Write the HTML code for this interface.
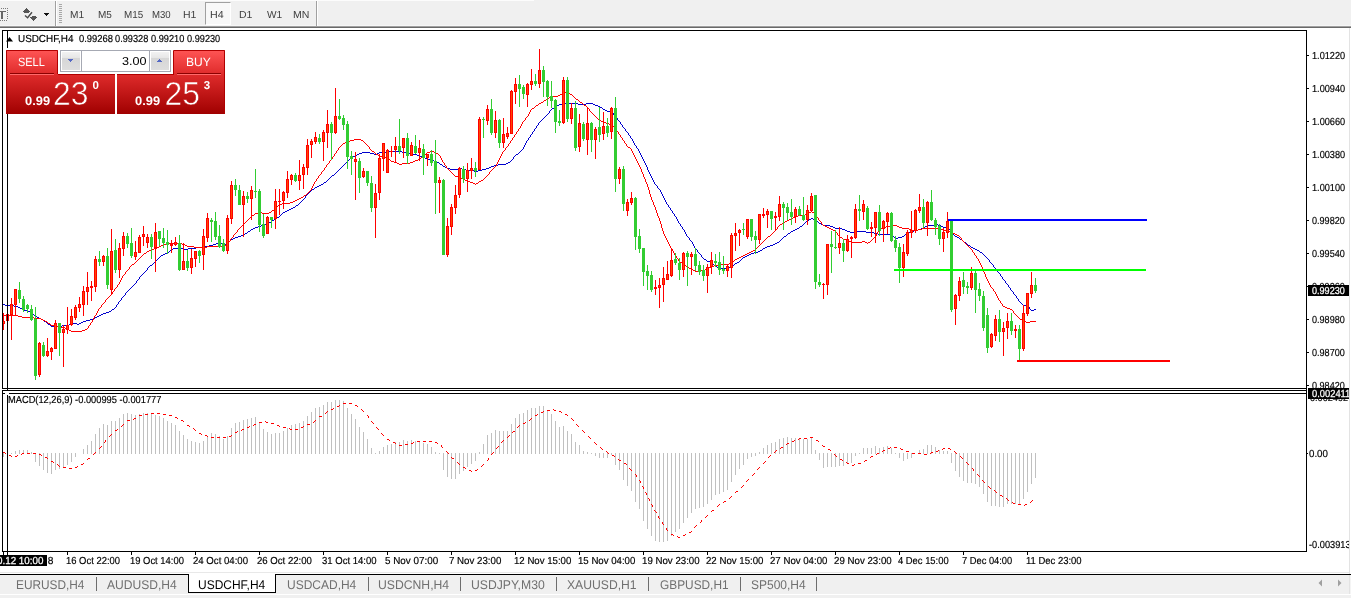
<!DOCTYPE html>
<html lang="en"><head><meta charset="utf-8"><title>USDCHF,H4</title>
<style>
*{box-sizing:border-box;margin:0;padding:0}
html,body{width:1351px;height:598px;overflow:hidden;background:#fff;font-family:"Liberation Sans", sans-serif}
#app{position:relative;width:1351px;height:598px;overflow:hidden;background:#fff}
#app div,#app svg{position:absolute}
.t{line-height:40px;height:40px;white-space:pre;color:#000;text-rendering:geometricPrecision;transform-origin:0 0}
.s{-webkit-text-stroke:0.18px #000}
.w{-webkit-text-stroke:0.25px #fff}
.b{background:#000}
.k{left:1307px;width:2px;height:1px;background:#000}
.dk{top:552px;width:1px;height:3px;background:#000}
.ts{top:577px;width:1px;height:14px;background:#6d6d6d}
.vs{top:1px;width:2px;height:25px;border-left:1px solid #a0a0a0;background:#fff}
#tb{left:0;top:0;width:1351px;height:26px;background:#f0f0f0;border-bottom:1px solid #f6f6f6}
#h4{left:205px;top:2px;width:26px;height:23px;border:1px solid #fff;border-left-color:#a0a0a0;border-top-color:#a0a0a0;background:#f8f8f8}
#tabs{left:0;top:575px;width:1351px;height:23px;background:#f0f0f0;border-bottom:3px solid #f0f0f0}
#atab{left:188px;top:574px;width:88px;height:19px;background:#fff;border:1px solid #000;border-top:none}
</style></head><body>
<div id="app">
<div id="tb"></div>
<div style="left:0;top:0;width:534px;height:1px;background:#fcfcfc"></div>
<div style="left:0;top:26px;width:1351px;height:1px;background:#a0a0a0"></div>
<div style="left:0;top:27px;width:1351px;height:1px;background:#696969"></div>
<div class="vs" style="left:55px"></div><div class="vs" style="left:316px"></div>
<div id="h4"></div>
<svg width="70" height="26" viewBox="0 0 70 26" style="left:0;top:0" shape-rendering="crispEdges">
<path fill="#7a7a7a" d="M1 8h1v1h-1zM3 8h1v1h-1zM5 8h1v1h-1zM7 8h1v1h-1zM7 10h1v1h-1zM7 12h1v1h-1zM7 14h1v1h-1zM7 16h1v1h-1zM7 18h1v1h-1zM0 20h1v1h-1zM2 20h1v1h-1zM4 20h1v1h-1zM6 20h1v1h-1z"/>
<path fill="#666" d="M0 11h6v1h-6zM1 12h2v1h-2zM1 13h2v1h-2zM1 14h2v1h-2zM1 15h2v1h-2zM1 16h2v1h-2zM1 17h2v1h-2zM1 18h2v1h-2z"/>
<path fill="#555" d="M26 8h1v1h-1zM25 9h3v1h-3zM24 10h5v1h-5zM23 11h7v1h-7zM24 12h5v1h-5zM32 16h4v1h-4zM30 17h7v1h-7zM31 18h5v1h-5zM32 19h3v1h-3zM33 20h1v1h-1z"/>
<path fill="#111" d="M44 13h5v1h-5zM45 14h3v1h-3zM46 15h1v1h-1z"/>
<path fill="#a8a8a8" d="M59 4h3v1h-3zM59 6h3v1h-3zM59 8h3v1h-3zM59 10h3v1h-3zM59 12h3v1h-3zM59 14h3v1h-3zM59 16h3v1h-3zM59 18h3v1h-3zM59 20h3v1h-3zM59 22h3v1h-3z"/>
</svg>
<svg width="70" height="26" viewBox="0 0 70 26" style="left:0;top:0">
<path d="M25 15.500L27.600 17.700L32 12.300" fill="none" stroke="#4a4a4a" stroke-width="1.400"/>
</svg>
<!-- chart frame -->
<div class="b" style="left:2px;top:30px;width:1305px;height:1px"></div>
<div class="b" style="left:2px;top:30px;width:1px;height:359px"></div>
<div class="b" style="left:1306px;top:30px;width:1px;height:522px"></div>
<div class="b" style="left:2px;top:388px;width:1305px;height:1px"></div>
<div class="b" style="left:2px;top:390px;width:1305px;height:1px"></div>
<div class="b" style="left:2px;top:390px;width:1px;height:162px"></div>
<div class="b" style="left:2px;top:551px;width:1305px;height:1px"></div>
<div class="k" style="top:55px"></div><div class="k" style="top:88px"></div><div class="k" style="top:121px"></div><div class="k" style="top:154px"></div><div class="k" style="top:187px"></div><div class="k" style="top:220px"></div><div class="k" style="top:253px"></div><div class="k" style="top:286px"></div><div class="k" style="top:319px"></div><div class="k" style="top:352px"></div><div class="k" style="top:385px"></div><div class="k" style="top:453px;width:1px"></div><div class="dk" style="left:3px"></div><div class="dk" style="left:7px"></div><div class="dk" style="left:67px"></div><div class="dk" style="left:131px"></div><div class="dk" style="left:195px"></div><div class="dk" style="left:259px"></div><div class="dk" style="left:323px"></div><div class="dk" style="left:387px"></div><div class="dk" style="left:451px"></div><div class="dk" style="left:515px"></div><div class="dk" style="left:579px"></div><div class="dk" style="left:643px"></div><div class="dk" style="left:707px"></div><div class="dk" style="left:771px"></div><div class="dk" style="left:835px"></div><div class="dk" style="left:899px"></div><div class="dk" style="left:963px"></div><div class="dk" style="left:1027px"></div>
<svg width="1351" height="598" viewBox="0 0 1351 598" style="left:0;top:0" shape-rendering="crispEdges">
<path fill="#0000cd" d="M562 103h16v1h-16zM586 103h7v1h-7zM559 104h3v1h-3zM578 104h8v1h-8zM593 104h2v1h-2zM557 105h2v1h-2zM595 105h3v1h-3zM555 106h2v1h-2zM598 106h2v1h-2zM554 107h1v1h-1zM600 107h2v1h-2zM552 108h2v1h-2zM602 108h1v1h-1zM551 109h1v1h-1zM603 109h2v1h-2zM550 110h1v1h-1zM605 110h2v1h-2zM549 111h1v1h-1zM607 111h5v1h-5zM549 112h1v1h-1zM612 112h1v1h-1zM548 113h1v1h-1zM613 113h1v1h-1zM547 114h1v1h-1zM613 114h1v1h-1zM546 115h1v1h-1zM614 115h1v1h-1zM545 116h1v1h-1zM615 116h1v1h-1zM544 117h1v1h-1zM616 117h1v1h-1zM543 118h1v1h-1zM617 118h1v1h-1zM542 119h1v1h-1zM617 119h1v1h-1zM541 120h1v1h-1zM618 120h1v1h-1zM540 121h1v1h-1zM619 121h1v1h-1zM539 122h1v1h-1zM620 122h1v1h-1zM538 123h1v1h-1zM620 123h1v1h-1zM538 124h1v1h-1zM621 124h1v1h-1zM537 125h1v1h-1zM622 125h1v1h-1zM536 126h1v1h-1zM622 126h1v1h-1zM536 127h1v1h-1zM623 127h1v1h-1zM535 128h1v1h-1zM624 128h1v1h-1zM534 129h1v1h-1zM625 129h1v1h-1zM534 130h1v1h-1zM625 130h1v1h-1zM533 131h1v1h-1zM626 131h1v1h-1zM532 132h1v1h-1zM627 132h1v1h-1zM532 133h1v1h-1zM628 133h1v1h-1zM531 134h1v1h-1zM628 134h1v1h-1zM530 135h1v1h-1zM629 135h1v1h-1zM530 136h1v1h-1zM630 136h1v1h-1zM529 137h1v1h-1zM630 137h1v1h-1zM528 138h1v1h-1zM631 138h1v1h-1zM528 139h1v1h-1zM632 139h1v1h-1zM527 140h1v1h-1zM632 140h1v1h-1zM526 141h1v1h-1zM633 141h1v1h-1zM526 142h1v1h-1zM633 142h1v1h-1zM525 143h1v1h-1zM634 143h1v1h-1zM525 144h1v1h-1zM634 144h1v1h-1zM524 145h1v1h-1zM635 145h1v1h-1zM524 146h1v1h-1zM636 146h1v1h-1zM523 147h1v1h-1zM636 147h1v1h-1zM523 148h1v1h-1zM637 148h1v1h-1zM522 149h1v1h-1zM638 149h1v1h-1zM521 150h1v1h-1zM638 150h1v1h-1zM386 151h16v1h-16zM520 151h1v1h-1zM639 151h1v1h-1zM362 152h8v1h-8zM379 152h7v1h-7zM402 152h4v1h-4zM519 152h1v1h-1zM639 152h1v1h-1zM359 153h3v1h-3zM370 153h4v1h-4zM377 153h2v1h-2zM406 153h4v1h-4zM518 153h1v1h-1zM640 153h1v1h-1zM357 154h2v1h-2zM374 154h3v1h-3zM410 154h7v1h-7zM516 154h2v1h-2zM640 154h1v1h-1zM355 155h2v1h-2zM417 155h2v1h-2zM515 155h1v1h-1zM641 155h1v1h-1zM353 156h2v1h-2zM419 156h3v1h-3zM514 156h1v1h-1zM641 156h1v1h-1zM351 157h2v1h-2zM422 157h3v1h-3zM513 157h1v1h-1zM642 157h1v1h-1zM350 158h1v1h-1zM425 158h2v1h-2zM513 158h1v1h-1zM642 158h1v1h-1zM349 159h1v1h-1zM427 159h3v1h-3zM512 159h1v1h-1zM643 159h1v1h-1zM348 160h1v1h-1zM430 160h4v1h-4zM511 160h1v1h-1zM643 160h1v1h-1zM347 161h1v1h-1zM434 161h3v1h-3zM510 161h1v1h-1zM644 161h1v1h-1zM346 162h1v1h-1zM437 162h2v1h-2zM508 162h2v1h-2zM644 162h1v1h-1zM345 163h1v1h-1zM439 163h1v1h-1zM506 163h2v1h-2zM645 163h1v1h-1zM344 164h1v1h-1zM440 164h2v1h-2zM498 164h8v1h-8zM645 164h1v1h-1zM343 165h1v1h-1zM442 165h1v1h-1zM494 165h4v1h-4zM646 165h1v1h-1zM342 166h1v1h-1zM443 166h2v1h-2zM491 166h3v1h-3zM646 166h1v1h-1zM341 167h1v1h-1zM445 167h2v1h-2zM489 167h2v1h-2zM647 167h1v1h-1zM340 168h1v1h-1zM447 168h3v1h-3zM458 168h4v1h-4zM486 168h3v1h-3zM647 168h1v1h-1zM339 169h1v1h-1zM450 169h8v1h-8zM462 169h4v1h-4zM482 169h4v1h-4zM647 169h1v1h-1zM338 170h1v1h-1zM466 170h8v1h-8zM478 170h4v1h-4zM648 170h1v1h-1zM337 171h1v1h-1zM474 171h4v1h-4zM648 171h1v1h-1zM336 172h1v1h-1zM649 172h1v1h-1zM335 173h1v1h-1zM649 173h1v1h-1zM334 174h1v1h-1zM650 174h1v1h-1zM332 175h2v1h-2zM650 175h1v1h-1zM331 176h1v1h-1zM651 176h1v1h-1zM330 177h1v1h-1zM651 177h1v1h-1zM329 178h1v1h-1zM652 178h1v1h-1zM328 179h1v1h-1zM652 179h1v1h-1zM327 180h1v1h-1zM653 180h1v1h-1zM326 181h1v1h-1zM653 181h1v1h-1zM324 182h2v1h-2zM654 182h1v1h-1zM323 183h1v1h-1zM654 183h1v1h-1zM321 184h2v1h-2zM655 184h1v1h-1zM319 185h2v1h-2zM656 185h1v1h-1zM317 186h2v1h-2zM657 186h1v1h-1zM315 187h2v1h-2zM657 187h1v1h-1zM314 188h1v1h-1zM658 188h1v1h-1zM312 189h2v1h-2zM659 189h1v1h-1zM311 190h1v1h-1zM660 190h1v1h-1zM310 191h1v1h-1zM660 191h1v1h-1zM309 192h1v1h-1zM661 192h1v1h-1zM308 193h1v1h-1zM661 193h1v1h-1zM307 194h1v1h-1zM662 194h1v1h-1zM306 195h1v1h-1zM662 195h1v1h-1zM305 196h1v1h-1zM663 196h1v1h-1zM305 197h1v1h-1zM663 197h1v1h-1zM304 198h1v1h-1zM664 198h1v1h-1zM303 199h1v1h-1zM664 199h1v1h-1zM302 200h1v1h-1zM665 200h1v1h-1zM301 201h1v1h-1zM665 201h1v1h-1zM300 202h1v1h-1zM666 202h1v1h-1zM299 203h1v1h-1zM666 203h1v1h-1zM298 204h1v1h-1zM667 204h1v1h-1zM296 205h2v1h-2zM668 205h1v1h-1zM295 206h1v1h-1zM668 206h1v1h-1zM293 207h2v1h-2zM669 207h1v1h-1zM291 208h2v1h-2zM670 208h1v1h-1zM289 209h2v1h-2zM670 209h1v1h-1zM287 210h2v1h-2zM671 210h1v1h-1zM285 211h2v1h-2zM672 211h1v1h-1zM283 212h2v1h-2zM672 212h1v1h-1zM282 213h1v1h-1zM673 213h1v1h-1zM281 214h1v1h-1zM674 214h1v1h-1zM280 215h1v1h-1zM674 215h1v1h-1zM279 216h1v1h-1zM675 216h1v1h-1zM277 217h2v1h-2zM676 217h1v1h-1zM275 218h2v1h-2zM676 218h1v1h-1zM811 218h2v1h-2zM274 219h1v1h-1zM677 219h1v1h-1zM809 219h2v1h-2zM813 219h2v1h-2zM272 220h2v1h-2zM677 220h1v1h-1zM807 220h2v1h-2zM815 220h1v1h-1zM271 221h1v1h-1zM678 221h1v1h-1zM806 221h1v1h-1zM816 221h2v1h-2zM269 222h2v1h-2zM678 222h1v1h-1zM805 222h1v1h-1zM818 222h1v1h-1zM266 223h3v1h-3zM679 223h1v1h-1zM804 223h1v1h-1zM819 223h2v1h-2zM263 224h3v1h-3zM680 224h1v1h-1zM803 224h1v1h-1zM821 224h2v1h-2zM934 224h4v1h-4zM261 225h2v1h-2zM680 225h1v1h-1zM802 225h1v1h-1zM823 225h7v1h-7zM927 225h7v1h-7zM938 225h3v1h-3zM258 226h3v1h-3zM681 226h1v1h-1zM800 226h2v1h-2zM830 226h3v1h-3zM925 226h2v1h-2zM941 226h2v1h-2zM255 227h3v1h-3zM682 227h1v1h-1zM799 227h1v1h-1zM833 227h2v1h-2zM923 227h2v1h-2zM943 227h5v1h-5zM253 228h2v1h-2zM682 228h1v1h-1zM797 228h2v1h-2zM835 228h7v1h-7zM921 228h2v1h-2zM948 228h1v1h-1zM251 229h2v1h-2zM683 229h1v1h-1zM795 229h2v1h-2zM842 229h3v1h-3zM918 229h3v1h-3zM949 229h1v1h-1zM250 230h1v1h-1zM684 230h1v1h-1zM793 230h2v1h-2zM845 230h2v1h-2zM914 230h4v1h-4zM950 230h1v1h-1zM248 231h2v1h-2zM684 231h1v1h-1zM791 231h2v1h-2zM847 231h3v1h-3zM854 231h12v1h-12zM910 231h4v1h-4zM951 231h1v1h-1zM247 232h1v1h-1zM685 232h1v1h-1zM790 232h1v1h-1zM850 232h4v1h-4zM866 232h8v1h-8zM907 232h3v1h-3zM952 232h1v1h-1zM245 233h2v1h-2zM685 233h1v1h-1zM788 233h2v1h-2zM874 233h4v1h-4zM906 233h1v1h-1zM953 233h1v1h-1zM243 234h2v1h-2zM686 234h1v1h-1zM787 234h1v1h-1zM878 234h14v1h-14zM905 234h1v1h-1zM953 234h1v1h-1zM241 235h2v1h-2zM686 235h1v1h-1zM786 235h1v1h-1zM892 235h1v1h-1zM904 235h1v1h-1zM954 235h1v1h-1zM238 236h3v1h-3zM687 236h1v1h-1zM784 236h2v1h-2zM893 236h1v1h-1zM902 236h2v1h-2zM955 236h2v1h-2zM235 237h3v1h-3zM688 237h1v1h-1zM783 237h1v1h-1zM894 237h1v1h-1zM898 237h4v1h-4zM957 237h2v1h-2zM233 238h2v1h-2zM689 238h1v1h-1zM782 238h1v1h-1zM895 238h3v1h-3zM959 238h1v1h-1zM231 239h2v1h-2zM689 239h1v1h-1zM781 239h1v1h-1zM960 239h2v1h-2zM230 240h1v1h-1zM690 240h1v1h-1zM780 240h1v1h-1zM962 240h1v1h-1zM229 241h1v1h-1zM691 241h1v1h-1zM779 241h1v1h-1zM963 241h1v1h-1zM218 242h3v1h-3zM228 242h1v1h-1zM692 242h1v1h-1zM777 242h2v1h-2zM964 242h2v1h-2zM216 243h2v1h-2zM221 243h2v1h-2zM226 243h2v1h-2zM692 243h1v1h-1zM775 243h2v1h-2zM966 243h1v1h-1zM213 244h3v1h-3zM223 244h3v1h-3zM693 244h1v1h-1zM773 244h2v1h-2zM967 244h1v1h-1zM209 245h4v1h-4zM693 245h1v1h-1zM770 245h3v1h-3zM968 245h2v1h-2zM205 246h4v1h-4zM694 246h1v1h-1zM767 246h3v1h-3zM970 246h1v1h-1zM196 247h9v1h-9zM694 247h1v1h-1zM765 247h2v1h-2zM971 247h2v1h-2zM173 248h11v1h-11zM188 248h8v1h-8zM695 248h1v1h-1zM763 248h2v1h-2zM973 248h2v1h-2zM172 249h1v1h-1zM184 249h4v1h-4zM696 249h1v1h-1zM762 249h1v1h-1zM975 249h2v1h-2zM170 250h2v1h-2zM697 250h1v1h-1zM760 250h2v1h-2zM977 250h2v1h-2zM169 251h1v1h-1zM697 251h1v1h-1zM758 251h2v1h-2zM979 251h1v1h-1zM167 252h2v1h-2zM698 252h1v1h-1zM754 252h4v1h-4zM980 252h2v1h-2zM165 253h2v1h-2zM699 253h1v1h-1zM751 253h3v1h-3zM982 253h1v1h-1zM163 254h2v1h-2zM700 254h1v1h-1zM749 254h2v1h-2zM983 254h1v1h-1zM161 255h2v1h-2zM701 255h1v1h-1zM747 255h2v1h-2zM984 255h1v1h-1zM160 256h1v1h-1zM701 256h1v1h-1zM745 256h2v1h-2zM985 256h1v1h-1zM159 257h1v1h-1zM702 257h1v1h-1zM743 257h2v1h-2zM986 257h1v1h-1zM158 258h1v1h-1zM703 258h1v1h-1zM742 258h1v1h-1zM987 258h1v1h-1zM157 259h1v1h-1zM704 259h2v1h-2zM741 259h1v1h-1zM988 259h1v1h-1zM156 260h1v1h-1zM706 260h1v1h-1zM740 260h1v1h-1zM989 260h1v1h-1zM155 261h1v1h-1zM707 261h3v1h-3zM739 261h1v1h-1zM989 261h1v1h-1zM154 262h1v1h-1zM710 262h2v1h-2zM737 262h2v1h-2zM990 262h1v1h-1zM153 263h1v1h-1zM712 263h1v1h-1zM735 263h2v1h-2zM991 263h1v1h-1zM152 264h1v1h-1zM713 264h1v1h-1zM734 264h1v1h-1zM992 264h1v1h-1zM150 265h2v1h-2zM714 265h1v1h-1zM732 265h2v1h-2zM993 265h1v1h-1zM149 266h1v1h-1zM715 266h2v1h-2zM731 266h1v1h-1zM993 266h1v1h-1zM148 267h1v1h-1zM717 267h2v1h-2zM729 267h2v1h-2zM994 267h1v1h-1zM147 268h1v1h-1zM719 268h10v1h-10zM995 268h1v1h-1zM147 269h1v1h-1zM996 269h1v1h-1zM146 270h1v1h-1zM997 270h1v1h-1zM145 271h1v1h-1zM997 271h1v1h-1zM144 272h1v1h-1zM998 272h1v1h-1zM143 273h1v1h-1zM999 273h1v1h-1zM142 274h1v1h-1zM1000 274h1v1h-1zM141 275h1v1h-1zM1000 275h1v1h-1zM140 276h1v1h-1zM1001 276h1v1h-1zM139 277h1v1h-1zM1002 277h1v1h-1zM139 278h1v1h-1zM1002 278h1v1h-1zM138 279h1v1h-1zM1003 279h1v1h-1zM137 280h1v1h-1zM1004 280h1v1h-1zM136 281h1v1h-1zM1005 281h1v1h-1zM136 282h1v1h-1zM1005 282h1v1h-1zM135 283h1v1h-1zM1006 283h1v1h-1zM134 284h1v1h-1zM1007 284h1v1h-1zM133 285h1v1h-1zM1008 285h1v1h-1zM132 286h1v1h-1zM1008 286h1v1h-1zM131 287h1v1h-1zM1009 287h1v1h-1zM130 288h1v1h-1zM1010 288h1v1h-1zM129 289h1v1h-1zM1010 289h1v1h-1zM128 290h1v1h-1zM1011 290h1v1h-1zM127 291h1v1h-1zM1012 291h1v1h-1zM126 292h1v1h-1zM1013 292h1v1h-1zM125 293h1v1h-1zM1013 293h1v1h-1zM125 294h1v1h-1zM1014 294h1v1h-1zM124 295h1v1h-1zM1015 295h1v1h-1zM123 296h1v1h-1zM1016 296h1v1h-1zM122 297h1v1h-1zM1016 297h1v1h-1zM121 298h1v1h-1zM1017 298h1v1h-1zM121 299h1v1h-1zM1018 299h1v1h-1zM120 300h1v1h-1zM1018 300h1v1h-1zM119 301h1v1h-1zM1019 301h1v1h-1zM118 302h1v1h-1zM1020 302h1v1h-1zM118 303h1v1h-1zM1021 303h1v1h-1zM2 304h3v1h-3zM117 304h1v1h-1zM1022 304h1v1h-1zM5 305h9v1h-9zM116 305h1v1h-1zM1023 305h5v1h-5zM14 306h4v1h-4zM116 306h1v1h-1zM1028 306h1v1h-1zM18 307h2v1h-2zM115 307h1v1h-1zM1029 307h1v1h-1zM20 308h2v1h-2zM114 308h1v1h-1zM1029 308h1v1h-1zM22 309h1v1h-1zM112 309h2v1h-2zM1030 309h1v1h-1zM1034 309h2v1h-2zM23 310h5v1h-5zM111 310h1v1h-1zM1031 310h3v1h-3zM28 311h2v1h-2zM109 311h2v1h-2zM30 312h1v1h-1zM106 312h3v1h-3zM31 313h1v1h-1zM103 313h3v1h-3zM32 314h2v1h-2zM101 314h2v1h-2zM34 315h1v1h-1zM99 315h2v1h-2zM35 316h2v1h-2zM97 316h2v1h-2zM37 317h2v1h-2zM95 317h2v1h-2zM39 318h2v1h-2zM93 318h2v1h-2zM41 319h2v1h-2zM90 319h3v1h-3zM43 320h1v1h-1zM86 320h4v1h-4zM44 321h2v1h-2zM83 321h3v1h-3zM46 322h1v1h-1zM81 322h2v1h-2zM47 323h1v1h-1zM71 323h6v1h-6zM79 323h2v1h-2zM48 324h2v1h-2zM69 324h2v1h-2zM77 324h2v1h-2zM50 325h1v1h-1zM62 325h7v1h-7zM51 326h11v1h-11z"/><path fill="#ff0000" d="M563 92h3v1h-3zM562 93h1v1h-1zM566 93h4v1h-4zM560 94h2v1h-2zM570 94h2v1h-2zM558 95h2v1h-2zM572 95h1v1h-1zM551 96h7v1h-7zM573 96h1v1h-1zM549 97h2v1h-2zM574 97h1v1h-1zM547 98h2v1h-2zM575 98h1v1h-1zM546 99h1v1h-1zM576 99h2v1h-2zM544 100h2v1h-2zM578 100h1v1h-1zM543 101h1v1h-1zM579 101h1v1h-1zM541 102h2v1h-2zM580 102h2v1h-2zM539 103h2v1h-2zM582 103h1v1h-1zM538 104h1v1h-1zM583 104h1v1h-1zM536 105h2v1h-2zM584 105h2v1h-2zM535 106h1v1h-1zM586 106h1v1h-1zM534 107h1v1h-1zM587 107h1v1h-1zM532 108h2v1h-2zM588 108h1v1h-1zM531 109h1v1h-1zM589 109h1v1h-1zM530 110h1v1h-1zM589 110h1v1h-1zM530 111h1v1h-1zM590 111h1v1h-1zM529 112h1v1h-1zM591 112h1v1h-1zM529 113h1v1h-1zM592 113h1v1h-1zM528 114h1v1h-1zM593 114h1v1h-1zM528 115h1v1h-1zM594 115h1v1h-1zM527 116h1v1h-1zM595 116h1v1h-1zM526 117h1v1h-1zM596 117h1v1h-1zM525 118h1v1h-1zM597 118h1v1h-1zM525 119h1v1h-1zM598 119h1v1h-1zM524 120h1v1h-1zM599 120h2v1h-2zM523 121h1v1h-1zM601 121h2v1h-2zM522 122h1v1h-1zM603 122h3v1h-3zM522 123h1v1h-1zM606 123h3v1h-3zM521 124h1v1h-1zM609 124h2v1h-2zM521 125h1v1h-1zM611 125h1v1h-1zM520 126h1v1h-1zM612 126h2v1h-2zM520 127h1v1h-1zM614 127h1v1h-1zM519 128h1v1h-1zM615 128h1v1h-1zM518 129h1v1h-1zM616 129h1v1h-1zM518 130h1v1h-1zM616 130h1v1h-1zM517 131h1v1h-1zM617 131h1v1h-1zM516 132h1v1h-1zM618 132h1v1h-1zM516 133h1v1h-1zM618 133h1v1h-1zM515 134h1v1h-1zM619 134h1v1h-1zM514 135h1v1h-1zM620 135h1v1h-1zM514 136h1v1h-1zM620 136h1v1h-1zM513 137h1v1h-1zM621 137h1v1h-1zM512 138h1v1h-1zM622 138h1v1h-1zM354 139h7v1h-7zM512 139h1v1h-1zM622 139h1v1h-1zM350 140h4v1h-4zM361 140h2v1h-2zM511 140h1v1h-1zM623 140h1v1h-1zM347 141h3v1h-3zM363 141h1v1h-1zM510 141h1v1h-1zM624 141h1v1h-1zM345 142h2v1h-2zM364 142h1v1h-1zM510 142h1v1h-1zM624 142h1v1h-1zM343 143h2v1h-2zM365 143h1v1h-1zM509 143h1v1h-1zM625 143h1v1h-1zM342 144h1v1h-1zM366 144h1v1h-1zM508 144h1v1h-1zM626 144h1v1h-1zM341 145h1v1h-1zM367 145h1v1h-1zM508 145h1v1h-1zM626 145h1v1h-1zM340 146h1v1h-1zM368 146h1v1h-1zM507 146h1v1h-1zM627 146h1v1h-1zM339 147h1v1h-1zM369 147h1v1h-1zM506 147h1v1h-1zM628 147h2v1h-2zM338 148h1v1h-1zM369 148h1v1h-1zM505 148h1v1h-1zM630 148h1v1h-1zM338 149h1v1h-1zM370 149h1v1h-1zM505 149h1v1h-1zM631 149h1v1h-1zM337 150h1v1h-1zM371 150h1v1h-1zM504 150h1v1h-1zM631 150h1v1h-1zM336 151h1v1h-1zM372 151h2v1h-2zM430 151h4v1h-4zM503 151h1v1h-1zM632 151h1v1h-1zM336 152h1v1h-1zM374 152h1v1h-1zM427 152h3v1h-3zM434 152h2v1h-2zM502 152h1v1h-1zM632 152h1v1h-1zM335 153h1v1h-1zM375 153h1v1h-1zM426 153h1v1h-1zM436 153h2v1h-2zM502 153h1v1h-1zM633 153h1v1h-1zM334 154h1v1h-1zM376 154h2v1h-2zM424 154h2v1h-2zM438 154h1v1h-1zM501 154h1v1h-1zM633 154h1v1h-1zM334 155h1v1h-1zM378 155h1v1h-1zM423 155h1v1h-1zM439 155h1v1h-1zM501 155h1v1h-1zM634 155h1v1h-1zM333 156h1v1h-1zM379 156h6v1h-6zM422 156h1v1h-1zM440 156h1v1h-1zM500 156h1v1h-1zM634 156h1v1h-1zM332 157h1v1h-1zM385 157h2v1h-2zM421 157h1v1h-1zM440 157h1v1h-1zM500 157h1v1h-1zM635 157h1v1h-1zM332 158h1v1h-1zM387 158h1v1h-1zM420 158h1v1h-1zM441 158h1v1h-1zM499 158h1v1h-1zM635 158h1v1h-1zM331 159h1v1h-1zM388 159h2v1h-2zM418 159h2v1h-2zM441 159h1v1h-1zM499 159h1v1h-1zM636 159h1v1h-1zM330 160h1v1h-1zM390 160h1v1h-1zM415 160h3v1h-3zM442 160h1v1h-1zM498 160h1v1h-1zM636 160h1v1h-1zM329 161h1v1h-1zM391 161h3v1h-3zM413 161h2v1h-2zM442 161h1v1h-1zM498 161h1v1h-1zM637 161h1v1h-1zM329 162h1v1h-1zM394 162h3v1h-3zM410 162h3v1h-3zM443 162h1v1h-1zM497 162h1v1h-1zM637 162h1v1h-1zM328 163h1v1h-1zM397 163h2v1h-2zM402 163h8v1h-8zM444 163h1v1h-1zM497 163h1v1h-1zM638 163h1v1h-1zM327 164h1v1h-1zM399 164h3v1h-3zM444 164h1v1h-1zM496 164h1v1h-1zM638 164h1v1h-1zM326 165h1v1h-1zM445 165h1v1h-1zM496 165h1v1h-1zM639 165h1v1h-1zM326 166h1v1h-1zM446 166h1v1h-1zM495 166h1v1h-1zM639 166h1v1h-1zM325 167h1v1h-1zM446 167h1v1h-1zM494 167h1v1h-1zM640 167h1v1h-1zM324 168h1v1h-1zM447 168h1v1h-1zM493 168h1v1h-1zM640 168h1v1h-1zM324 169h1v1h-1zM448 169h1v1h-1zM492 169h1v1h-1zM641 169h1v1h-1zM323 170h1v1h-1zM449 170h1v1h-1zM491 170h1v1h-1zM641 170h1v1h-1zM322 171h1v1h-1zM450 171h1v1h-1zM490 171h1v1h-1zM641 171h1v1h-1zM321 172h1v1h-1zM451 172h1v1h-1zM489 172h1v1h-1zM642 172h1v1h-1zM321 173h1v1h-1zM452 173h1v1h-1zM489 173h1v1h-1zM642 173h1v1h-1zM320 174h1v1h-1zM453 174h1v1h-1zM488 174h1v1h-1zM643 174h1v1h-1zM319 175h1v1h-1zM454 175h1v1h-1zM487 175h1v1h-1zM643 175h1v1h-1zM318 176h1v1h-1zM455 176h3v1h-3zM486 176h1v1h-1zM643 176h1v1h-1zM318 177h1v1h-1zM458 177h3v1h-3zM485 177h1v1h-1zM644 177h1v1h-1zM317 178h1v1h-1zM461 178h2v1h-2zM484 178h1v1h-1zM644 178h1v1h-1zM316 179h1v1h-1zM463 179h2v1h-2zM483 179h1v1h-1zM645 179h1v1h-1zM316 180h1v1h-1zM465 180h2v1h-2zM481 180h2v1h-2zM645 180h1v1h-1zM315 181h1v1h-1zM467 181h3v1h-3zM479 181h2v1h-2zM645 181h1v1h-1zM314 182h1v1h-1zM470 182h3v1h-3zM478 182h1v1h-1zM646 182h1v1h-1zM314 183h1v1h-1zM473 183h2v1h-2zM476 183h2v1h-2zM646 183h1v1h-1zM313 184h1v1h-1zM475 184h1v1h-1zM647 184h1v1h-1zM313 185h1v1h-1zM647 185h1v1h-1zM312 186h1v1h-1zM647 186h1v1h-1zM312 187h1v1h-1zM648 187h1v1h-1zM311 188h1v1h-1zM648 188h1v1h-1zM311 189h1v1h-1zM648 189h1v1h-1zM310 190h1v1h-1zM649 190h1v1h-1zM309 191h1v1h-1zM649 191h1v1h-1zM308 192h1v1h-1zM649 192h1v1h-1zM307 193h1v1h-1zM649 193h1v1h-1zM306 194h1v1h-1zM650 194h1v1h-1zM304 195h2v1h-2zM650 195h1v1h-1zM303 196h1v1h-1zM650 196h1v1h-1zM301 197h2v1h-2zM651 197h1v1h-1zM299 198h2v1h-2zM651 198h1v1h-1zM297 199h2v1h-2zM651 199h1v1h-1zM295 200h2v1h-2zM652 200h1v1h-1zM293 201h2v1h-2zM652 201h1v1h-1zM290 202h3v1h-3zM653 202h1v1h-1zM282 203h8v1h-8zM653 203h1v1h-1zM279 204h3v1h-3zM653 204h1v1h-1zM278 205h1v1h-1zM654 205h1v1h-1zM277 206h1v1h-1zM654 206h1v1h-1zM276 207h1v1h-1zM655 207h1v1h-1zM275 208h1v1h-1zM655 208h1v1h-1zM274 209h1v1h-1zM655 209h1v1h-1zM272 210h2v1h-2zM656 210h1v1h-1zM271 211h1v1h-1zM656 211h1v1h-1zM811 211h1v1h-1zM258 212h4v1h-4zM269 212h2v1h-2zM656 212h1v1h-1zM809 212h2v1h-2zM812 212h2v1h-2zM255 213h3v1h-3zM262 213h7v1h-7zM657 213h1v1h-1zM807 213h2v1h-2zM814 213h1v1h-1zM254 214h1v1h-1zM657 214h1v1h-1zM805 214h2v1h-2zM815 214h1v1h-1zM252 215h2v1h-2zM657 215h1v1h-1zM798 215h7v1h-7zM816 215h1v1h-1zM251 216h1v1h-1zM658 216h1v1h-1zM795 216h3v1h-3zM816 216h1v1h-1zM250 217h1v1h-1zM658 217h1v1h-1zM793 217h2v1h-2zM817 217h1v1h-1zM249 218h1v1h-1zM659 218h1v1h-1zM791 218h2v1h-2zM818 218h1v1h-1zM248 219h1v1h-1zM659 219h1v1h-1zM789 219h2v1h-2zM818 219h1v1h-1zM247 220h1v1h-1zM659 220h1v1h-1zM787 220h2v1h-2zM819 220h1v1h-1zM246 221h1v1h-1zM660 221h1v1h-1zM785 221h2v1h-2zM820 221h1v1h-1zM245 222h1v1h-1zM660 222h1v1h-1zM783 222h2v1h-2zM821 222h1v1h-1zM244 223h1v1h-1zM660 223h1v1h-1zM782 223h1v1h-1zM821 223h1v1h-1zM243 224h1v1h-1zM661 224h1v1h-1zM780 224h2v1h-2zM822 224h1v1h-1zM242 225h1v1h-1zM661 225h1v1h-1zM779 225h1v1h-1zM823 225h2v1h-2zM890 225h7v1h-7zM241 226h1v1h-1zM661 226h1v1h-1zM778 226h1v1h-1zM825 226h2v1h-2zM886 226h4v1h-4zM897 226h2v1h-2zM240 227h1v1h-1zM661 227h1v1h-1zM777 227h1v1h-1zM827 227h2v1h-2zM883 227h3v1h-3zM899 227h3v1h-3zM239 228h1v1h-1zM662 228h1v1h-1zM777 228h1v1h-1zM829 228h2v1h-2zM881 228h2v1h-2zM902 228h7v1h-7zM922 228h19v1h-19zM238 229h1v1h-1zM662 229h1v1h-1zM776 229h1v1h-1zM831 229h2v1h-2zM879 229h2v1h-2zM909 229h2v1h-2zM918 229h4v1h-4zM941 229h2v1h-2zM237 230h1v1h-1zM662 230h1v1h-1zM775 230h1v1h-1zM833 230h2v1h-2zM878 230h1v1h-1zM911 230h7v1h-7zM943 230h3v1h-3zM237 231h1v1h-1zM663 231h1v1h-1zM774 231h1v1h-1zM835 231h1v1h-1zM878 231h1v1h-1zM946 231h4v1h-4zM236 232h1v1h-1zM663 232h1v1h-1zM773 232h1v1h-1zM836 232h1v1h-1zM877 232h1v1h-1zM950 232h3v1h-3zM235 233h1v1h-1zM663 233h1v1h-1zM772 233h1v1h-1zM837 233h1v1h-1zM877 233h1v1h-1zM953 233h2v1h-2zM234 234h1v1h-1zM664 234h1v1h-1zM771 234h1v1h-1zM837 234h1v1h-1zM876 234h1v1h-1zM955 234h2v1h-2zM233 235h1v1h-1zM664 235h1v1h-1zM770 235h1v1h-1zM838 235h1v1h-1zM876 235h1v1h-1zM957 235h2v1h-2zM233 236h1v1h-1zM665 236h1v1h-1zM768 236h2v1h-2zM839 236h1v1h-1zM875 236h1v1h-1zM959 236h1v1h-1zM232 237h1v1h-1zM665 237h1v1h-1zM767 237h1v1h-1zM840 237h2v1h-2zM874 237h1v1h-1zM960 237h1v1h-1zM231 238h1v1h-1zM666 238h1v1h-1zM766 238h1v1h-1zM842 238h1v1h-1zM873 238h1v1h-1zM961 238h1v1h-1zM230 239h1v1h-1zM666 239h1v1h-1zM765 239h1v1h-1zM843 239h3v1h-3zM872 239h1v1h-1zM961 239h1v1h-1zM230 240h1v1h-1zM667 240h1v1h-1zM764 240h1v1h-1zM846 240h3v1h-3zM871 240h1v1h-1zM962 240h1v1h-1zM229 241h1v1h-1zM667 241h1v1h-1zM763 241h1v1h-1zM849 241h2v1h-2zM862 241h3v1h-3zM870 241h1v1h-1zM963 241h1v1h-1zM228 242h1v1h-1zM668 242h1v1h-1zM762 242h1v1h-1zM851 242h11v1h-11zM865 242h2v1h-2zM868 242h2v1h-2zM964 242h1v1h-1zM166 243h16v1h-16zM228 243h1v1h-1zM668 243h1v1h-1zM761 243h1v1h-1zM867 243h1v1h-1zM965 243h1v1h-1zM163 244h3v1h-3zM182 244h3v1h-3zM227 244h1v1h-1zM669 244h1v1h-1zM760 244h1v1h-1zM966 244h1v1h-1zM161 245h2v1h-2zM185 245h2v1h-2zM225 245h2v1h-2zM669 245h1v1h-1zM759 245h1v1h-1zM967 245h1v1h-1zM159 246h2v1h-2zM187 246h7v1h-7zM207 246h18v1h-18zM670 246h1v1h-1zM758 246h1v1h-1zM968 246h1v1h-1zM157 247h2v1h-2zM194 247h13v1h-13zM670 247h1v1h-1zM757 247h1v1h-1zM969 247h1v1h-1zM154 248h3v1h-3zM671 248h1v1h-1zM756 248h1v1h-1zM970 248h1v1h-1zM151 249h3v1h-3zM672 249h1v1h-1zM755 249h1v1h-1zM971 249h1v1h-1zM149 250h2v1h-2zM672 250h1v1h-1zM753 250h2v1h-2zM972 250h1v1h-1zM147 251h2v1h-2zM673 251h1v1h-1zM751 251h2v1h-2zM972 251h1v1h-1zM146 252h1v1h-1zM673 252h1v1h-1zM749 252h2v1h-2zM973 252h1v1h-1zM144 253h2v1h-2zM674 253h1v1h-1zM747 253h2v1h-2zM974 253h1v1h-1zM143 254h1v1h-1zM674 254h1v1h-1zM745 254h2v1h-2zM974 254h1v1h-1zM142 255h1v1h-1zM675 255h1v1h-1zM743 255h2v1h-2zM975 255h1v1h-1zM141 256h1v1h-1zM676 256h1v1h-1zM741 256h2v1h-2zM976 256h1v1h-1zM140 257h1v1h-1zM676 257h1v1h-1zM739 257h2v1h-2zM976 257h1v1h-1zM139 258h1v1h-1zM677 258h1v1h-1zM737 258h2v1h-2zM977 258h1v1h-1zM138 259h1v1h-1zM678 259h1v1h-1zM735 259h2v1h-2zM978 259h1v1h-1zM137 260h1v1h-1zM678 260h1v1h-1zM734 260h1v1h-1zM978 260h1v1h-1zM136 261h1v1h-1zM679 261h1v1h-1zM732 261h2v1h-2zM979 261h1v1h-1zM135 262h1v1h-1zM680 262h2v1h-2zM731 262h1v1h-1zM979 262h1v1h-1zM134 263h1v1h-1zM682 263h1v1h-1zM729 263h2v1h-2zM980 263h1v1h-1zM132 264h2v1h-2zM683 264h1v1h-1zM718 264h11v1h-11zM980 264h1v1h-1zM131 265h1v1h-1zM684 265h2v1h-2zM714 265h4v1h-4zM981 265h1v1h-1zM130 266h1v1h-1zM686 266h1v1h-1zM711 266h3v1h-3zM981 266h1v1h-1zM129 267h1v1h-1zM687 267h2v1h-2zM709 267h2v1h-2zM982 267h1v1h-1zM129 268h1v1h-1zM689 268h2v1h-2zM707 268h2v1h-2zM982 268h1v1h-1zM128 269h1v1h-1zM691 269h2v1h-2zM705 269h2v1h-2zM983 269h1v1h-1zM127 270h1v1h-1zM693 270h2v1h-2zM698 270h7v1h-7zM983 270h1v1h-1zM126 271h1v1h-1zM695 271h3v1h-3zM983 271h1v1h-1zM125 272h1v1h-1zM984 272h1v1h-1zM125 273h1v1h-1zM984 273h1v1h-1zM124 274h1v1h-1zM985 274h1v1h-1zM123 275h1v1h-1zM985 275h1v1h-1zM122 276h1v1h-1zM985 276h1v1h-1zM122 277h1v1h-1zM986 277h1v1h-1zM121 278h1v1h-1zM986 278h1v1h-1zM121 279h1v1h-1zM987 279h1v1h-1zM120 280h1v1h-1zM987 280h1v1h-1zM120 281h1v1h-1zM988 281h1v1h-1zM119 282h1v1h-1zM988 282h1v1h-1zM119 283h1v1h-1zM989 283h1v1h-1zM118 284h1v1h-1zM989 284h1v1h-1zM117 285h1v1h-1zM990 285h1v1h-1zM117 286h1v1h-1zM990 286h1v1h-1zM116 287h1v1h-1zM991 287h1v1h-1zM115 288h1v1h-1zM992 288h1v1h-1zM114 289h1v1h-1zM993 289h1v1h-1zM114 290h1v1h-1zM993 290h1v1h-1zM113 291h1v1h-1zM994 291h1v1h-1zM112 292h1v1h-1zM995 292h1v1h-1zM112 293h1v1h-1zM995 293h1v1h-1zM111 294h1v1h-1zM996 294h1v1h-1zM110 295h1v1h-1zM996 295h1v1h-1zM109 296h1v1h-1zM997 296h1v1h-1zM108 297h1v1h-1zM997 297h1v1h-1zM107 298h1v1h-1zM998 298h1v1h-1zM106 299h1v1h-1zM998 299h1v1h-1zM105 300h1v1h-1zM999 300h1v1h-1zM105 301h1v1h-1zM1000 301h1v1h-1zM104 302h1v1h-1zM1000 302h1v1h-1zM103 303h1v1h-1zM1001 303h1v1h-1zM102 304h1v1h-1zM1002 304h1v1h-1zM101 305h1v1h-1zM1002 305h1v1h-1zM101 306h1v1h-1zM1003 306h2v1h-2zM100 307h1v1h-1zM1005 307h2v1h-2zM99 308h1v1h-1zM1007 308h3v1h-3zM98 309h1v1h-1zM1010 309h2v1h-2zM98 310h1v1h-1zM1012 310h1v1h-1zM97 311h1v1h-1zM1013 311h1v1h-1zM97 312h1v1h-1zM1013 312h1v1h-1zM96 313h1v1h-1zM1014 313h1v1h-1zM96 314h1v1h-1zM1015 314h1v1h-1zM2 315h16v1h-16zM95 315h1v1h-1zM1016 315h1v1h-1zM18 316h4v1h-4zM94 316h1v1h-1zM1017 316h1v1h-1zM22 317h12v1h-12zM94 317h1v1h-1zM1018 317h1v1h-1zM34 318h7v1h-7zM93 318h1v1h-1zM1019 318h1v1h-1zM41 319h2v1h-2zM93 319h1v1h-1zM1020 319h2v1h-2zM43 320h2v1h-2zM92 320h1v1h-1zM1022 320h1v1h-1zM45 321h2v1h-2zM92 321h1v1h-1zM1023 321h3v1h-3zM1030 321h6v1h-6zM47 322h1v1h-1zM91 322h1v1h-1zM1026 322h4v1h-4zM48 323h2v1h-2zM90 323h1v1h-1zM50 324h1v1h-1zM90 324h1v1h-1zM51 325h3v1h-3zM89 325h1v1h-1zM54 326h4v1h-4zM88 326h1v1h-1zM58 327h7v1h-7zM88 327h1v1h-1zM65 328h2v1h-2zM87 328h1v1h-1zM67 329h2v1h-2zM85 329h2v1h-2zM69 330h2v1h-2zM82 330h3v1h-3zM71 331h11v1h-11z"/>
<path fill="#ff0000" d="M3 313h1v8h-1zM3 324h1v6h-1zM2 321h3v3h-3zM6 314h3v7h-3zM11 298h1v6h-1zM11 315h1v25h-1zM10 304h3v11h-3zM15 305h1v10h-1zM14 289h3v16h-3zM39 342h1v1h-1zM39 375h1v2h-1zM38 343h3v32h-3zM47 338h1v13h-1zM47 356h1v1h-1zM46 351h3v5h-3zM51 347h1v1h-1zM51 352h1v8h-1zM50 348h3v4h-3zM55 320h1v3h-1zM54 323h3v26h-3zM63 325h1v4h-1zM63 333h1v34h-1zM62 329h3v4h-3zM67 307h1v18h-1zM67 330h1v4h-1zM66 325h3v5h-3zM71 309h1v7h-1zM71 325h1v1h-1zM70 316h3v9h-3zM75 305h1v2h-1zM75 318h1v2h-1zM74 307h3v11h-3zM79 297h1v7h-1zM79 308h1v4h-1zM78 304h3v4h-3zM83 286h1v5h-1zM83 305h1v11h-1zM82 291h3v14h-3zM87 272h1v15h-1zM87 292h1v13h-1zM86 287h3v5h-3zM91 281h1v5h-1zM91 288h1v13h-1zM90 286h3v2h-3zM95 256h1v3h-1zM95 287h1v5h-1zM94 259h3v28h-3zM103 255h1v1h-1zM103 262h1v4h-1zM102 256h3v6h-3zM111 229h1v22h-1zM111 290h1v5h-1zM110 251h3v39h-3zM119 243h1v5h-1zM119 270h1v8h-1zM118 248h3v22h-3zM123 232h1v4h-1zM123 249h1v7h-1zM122 236h3v13h-3zM135 241h1v11h-1zM135 257h1v3h-1zM134 252h3v5h-3zM139 235h1v2h-1zM138 237h3v16h-3zM143 226h1v8h-1zM143 237h1v9h-1zM142 234h3v3h-3zM147 234h1v3h-1zM147 243h1v5h-1zM146 237h3v6h-3zM155 223h1v9h-1zM155 248h1v24h-1zM154 232h3v16h-3zM171 240h1v4h-1zM171 246h1v7h-1zM170 244h3v2h-3zM175 237h1v5h-1zM175 245h1v1h-1zM174 242h3v3h-3zM183 243h1v18h-1zM182 261h3v9h-3zM191 249h1v9h-1zM191 268h1v6h-1zM190 258h3v10h-3zM195 259h1v8h-1zM194 251h3v8h-3zM203 229h1v7h-1zM203 255h1v15h-1zM202 236h3v19h-3zM207 213h1v5h-1zM207 238h1v4h-1zM206 218h3v20h-3zM227 215h1v3h-1zM227 251h1v3h-1zM226 218h3v33h-3zM231 181h1v4h-1zM231 219h1v5h-1zM230 185h3v34h-3zM243 191h1v5h-1zM243 205h1v32h-1zM242 196h3v9h-3zM251 186h1v4h-1zM251 199h1v21h-1zM250 190h3v9h-3zM267 216h1v1h-1zM266 217h3v17h-3zM275 189h1v12h-1zM275 219h1v10h-1zM274 201h3v18h-3zM279 189h1v12h-1zM279 202h1v13h-1zM278 201h3v1h-3zM283 191h1v1h-1zM283 201h1v8h-1zM282 192h3v9h-3zM287 171h1v8h-1zM287 193h1v5h-1zM286 179h3v14h-3zM291 174h1v1h-1zM291 180h1v5h-1zM290 175h3v5h-3zM299 160h1v15h-1zM299 181h1v9h-1zM298 175h3v6h-3zM303 164h1v3h-1zM303 175h1v14h-1zM302 167h3v8h-3zM307 139h1v6h-1zM307 168h1v7h-1zM306 145h3v23h-3zM311 139h1v2h-1zM311 145h1v13h-1zM310 141h3v4h-3zM315 132h1v5h-1zM315 142h1v2h-1zM314 137h3v5h-3zM323 130h1v2h-1zM323 142h1v19h-1zM322 132h3v10h-3zM327 110h1v14h-1zM327 133h1v15h-1zM326 124h3v9h-3zM335 88h1v28h-1zM335 133h1v1h-1zM334 116h3v17h-3zM355 152h1v7h-1zM355 162h1v38h-1zM354 159h3v3h-3zM363 168h1v3h-1zM363 177h1v1h-1zM362 171h3v6h-3zM375 184h1v9h-1zM375 208h1v30h-1zM374 193h3v15h-3zM379 154h1v4h-1zM379 193h1v7h-1zM378 158h3v35h-3zM383 159h1v12h-1zM382 143h3v16h-3zM387 149h1v1h-1zM386 150h3v23h-3zM391 146h1v5h-1zM391 152h1v5h-1zM390 151h3v1h-3zM395 137h1v9h-1zM395 150h1v13h-1zM394 146h3v4h-3zM403 148h1v10h-1zM402 138h3v10h-3zM411 142h1v3h-1zM410 145h3v11h-3zM419 140h1v8h-1zM419 153h1v8h-1zM418 148h3v5h-3zM427 158h1v8h-1zM426 154h3v4h-3zM439 177h1v3h-1zM439 183h1v30h-1zM438 180h3v3h-3zM447 218h1v8h-1zM447 255h1v2h-1zM446 226h3v29h-3zM451 204h1v3h-1zM451 227h1v8h-1zM450 207h3v20h-3zM455 185h1v10h-1zM455 208h1v6h-1zM454 195h3v13h-3zM459 167h1v1h-1zM459 195h1v3h-1zM458 168h3v27h-3zM467 163h1v7h-1zM467 179h1v13h-1zM466 170h3v9h-3zM471 158h1v10h-1zM471 171h1v8h-1zM470 168h3v3h-3zM479 117h1v2h-1zM478 119h3v51h-3zM487 105h1v4h-1zM487 121h1v4h-1zM486 109h3v12h-3zM495 111h1v9h-1zM495 133h1v5h-1zM494 120h3v13h-3zM503 118h1v16h-1zM503 143h1v5h-1zM502 134h3v9h-3zM507 127h1v6h-1zM507 137h1v2h-1zM506 133h3v4h-3zM511 90h1v1h-1zM510 91h3v43h-3zM515 78h1v6h-1zM515 92h1v12h-1zM514 84h3v8h-3zM527 83h1v1h-1zM527 95h1v12h-1zM526 84h3v11h-3zM531 69h1v12h-1zM531 85h1v5h-1zM530 81h3v4h-3zM539 49h1v21h-1zM539 84h1v4h-1zM538 70h3v14h-3zM563 77h1v3h-1zM563 123h1v1h-1zM562 80h3v43h-3zM571 103h1v5h-1zM571 119h1v5h-1zM570 108h3v11h-3zM579 114h1v9h-1zM579 147h1v5h-1zM578 123h3v24h-3zM587 108h1v15h-1zM587 140h1v15h-1zM586 123h3v17h-3zM595 127h1v2h-1zM595 140h1v19h-1zM594 129h3v11h-3zM603 112h1v14h-1zM603 134h1v6h-1zM602 126h3v8h-3zM611 107h1v1h-1zM611 132h1v7h-1zM610 108h3v24h-3zM619 167h1v2h-1zM619 179h1v5h-1zM618 169h3v10h-3zM627 199h1v3h-1zM627 211h1v5h-1zM626 202h3v9h-3zM631 192h1v6h-1zM631 203h1v2h-1zM630 198h3v5h-3zM655 280h1v7h-1zM655 289h1v6h-1zM654 287h3v2h-3zM659 278h1v7h-1zM659 288h1v20h-1zM658 285h3v3h-3zM663 267h1v11h-1zM663 285h1v17h-1zM662 278h3v7h-3zM667 261h1v13h-1zM666 274h3v6h-3zM671 249h1v11h-1zM671 276h1v1h-1zM670 260h3v16h-3zM683 252h1v1h-1zM683 270h1v7h-1zM682 253h3v17h-3zM691 252h1v2h-1zM691 257h1v18h-1zM690 254h3v3h-3zM707 264h1v3h-1zM707 276h1v17h-1zM706 267h3v9h-3zM711 252h1v8h-1zM711 267h1v7h-1zM710 260h3v7h-3zM727 265h1v1h-1zM727 271h1v6h-1zM726 266h3v5h-3zM731 233h1v2h-1zM731 268h1v10h-1zM730 235h3v33h-3zM735 223h1v10h-1zM735 236h1v15h-1zM734 233h3v3h-3zM739 229h1v1h-1zM739 233h1v13h-1zM738 230h3v3h-3zM747 237h1v2h-1zM746 219h3v18h-3zM759 240h1v4h-1zM758 214h3v26h-3zM763 208h1v6h-1zM763 216h1v2h-1zM762 214h3v2h-3zM767 209h1v2h-1zM767 215h1v13h-1zM766 211h3v4h-3zM775 212h1v4h-1zM775 218h1v13h-1zM774 216h3v2h-3zM779 196h1v8h-1zM779 217h1v4h-1zM778 204h3v13h-3zM795 207h1v2h-1zM795 217h1v6h-1zM794 209h3v8h-3zM807 205h1v5h-1zM807 220h1v5h-1zM806 210h3v10h-3zM811 193h1v3h-1zM811 211h1v1h-1zM810 196h3v15h-3zM823 283h1v1h-1zM823 285h1v14h-1zM822 284h3v1h-3zM827 285h1v10h-1zM826 244h3v41h-3zM839 227h1v16h-1zM839 248h1v6h-1zM838 243h3v5h-3zM847 235h1v4h-1zM847 251h1v1h-1zM846 239h3v12h-3zM851 236h1v1h-1zM851 239h1v19h-1zM850 237h3v2h-3zM855 204h1v5h-1zM855 238h1v1h-1zM854 209h3v29h-3zM863 200h1v4h-1zM863 212h1v8h-1zM862 204h3v8h-3zM871 222h1v5h-1zM871 229h1v8h-1zM870 227h3v2h-3zM875 228h1v15h-1zM874 212h3v16h-3zM883 220h1v1h-1zM883 229h1v13h-1zM882 221h3v8h-3zM887 212h1v1h-1zM887 222h1v12h-1zM886 213h3v9h-3zM903 244h1v8h-1zM903 268h1v9h-1zM902 252h3v16h-3zM907 230h1v2h-1zM907 254h1v2h-1zM906 232h3v22h-3zM911 211h1v19h-1zM911 233h1v5h-1zM910 230h3v3h-3zM915 209h1v1h-1zM915 231h1v2h-1zM914 210h3v21h-3zM919 194h1v13h-1zM919 211h1v2h-1zM918 207h3v4h-3zM927 201h1v1h-1zM927 223h1v13h-1zM926 202h3v21h-3zM943 228h1v4h-1zM943 239h1v13h-1zM942 232h3v7h-3zM947 212h1v9h-1zM947 233h1v5h-1zM946 221h3v12h-3zM955 294h1v1h-1zM955 309h1v16h-1zM954 295h3v14h-3zM959 277h1v4h-1zM959 296h1v5h-1zM958 281h3v15h-3zM971 267h1v6h-1zM971 288h1v2h-1zM970 273h3v15h-3zM991 333h1v1h-1zM991 347h1v1h-1zM990 334h3v13h-3zM995 315h1v4h-1zM995 336h1v5h-1zM994 319h3v17h-3zM1003 322h1v6h-1zM1003 332h1v24h-1zM1002 328h3v4h-3zM1007 313h1v8h-1zM1007 328h1v11h-1zM1006 321h3v7h-3zM1015 325h1v4h-1zM1015 331h1v7h-1zM1014 329h3v2h-3zM1023 305h1v8h-1zM1023 349h1v2h-1zM1022 313h3v36h-3zM1027 314h1v2h-1zM1026 293h3v21h-3zM1031 272h1v13h-1zM1031 294h1v4h-1zM1030 285h3v9h-3z"/><path fill="#32cd32" d="M19 282h1v8h-1zM19 299h1v4h-1zM18 290h3v9h-3zM23 296h1v3h-1zM23 310h1v2h-1zM22 299h3v11h-3zM27 304h1v1h-1zM27 309h1v4h-1zM26 305h3v4h-3zM31 305h1v4h-1zM31 320h1v1h-1zM30 309h3v11h-3zM35 307h1v12h-1zM35 376h1v4h-1zM34 319h3v57h-3zM43 342h1v3h-1zM43 356h1v1h-1zM42 345h3v11h-3zM59 333h1v23h-1zM58 323h3v10h-3zM99 251h1v8h-1zM99 262h1v4h-1zM98 259h3v3h-3zM107 248h1v8h-1zM107 285h1v4h-1zM106 256h3v29h-3zM115 239h1v11h-1zM115 270h1v3h-1zM114 250h3v20h-3zM127 233h1v3h-1zM127 244h1v4h-1zM126 236h3v8h-3zM131 228h1v15h-1zM131 256h1v2h-1zM130 243h3v13h-3zM151 234h1v3h-1zM151 247h1v12h-1zM150 237h3v10h-3zM159 239h1v7h-1zM158 231h3v8h-3zM163 228h1v10h-1zM163 243h1v5h-1zM162 238h3v5h-3zM167 230h1v12h-1zM167 245h1v9h-1zM166 242h3v3h-3zM179 235h1v8h-1zM179 270h1v1h-1zM178 243h3v27h-3zM187 250h1v11h-1zM187 268h1v3h-1zM186 261h3v7h-3zM199 250h1v1h-1zM199 256h1v7h-1zM198 251h3v5h-3zM211 218h1v2h-1zM211 222h1v20h-1zM210 220h3v2h-3zM215 212h1v9h-1zM215 237h1v3h-1zM214 221h3v16h-3zM219 225h1v11h-1zM219 247h1v1h-1zM218 236h3v11h-3zM223 239h1v4h-1zM223 251h1v1h-1zM222 243h3v8h-3zM235 179h1v6h-1zM235 190h1v6h-1zM234 185h3v5h-3zM239 185h1v5h-1zM238 190h3v15h-3zM247 192h1v4h-1zM247 199h1v4h-1zM246 196h3v3h-3zM255 169h1v22h-1zM255 192h1v6h-1zM254 191h3v1h-3zM259 189h1v2h-1zM259 225h1v7h-1zM258 191h3v34h-3zM263 214h1v10h-1zM263 236h1v2h-1zM262 224h3v12h-3zM271 220h1v8h-1zM270 217h3v3h-3zM295 173h1v2h-1zM295 181h1v1h-1zM294 175h3v6h-3zM319 134h1v4h-1zM319 142h1v2h-1zM318 138h3v4h-3zM331 122h1v2h-1zM331 133h1v27h-1zM330 124h3v9h-3zM339 99h1v17h-1zM339 119h1v1h-1zM338 116h3v3h-3zM343 115h1v3h-1zM343 125h1v5h-1zM342 118h3v7h-3zM347 121h1v3h-1zM347 157h1v12h-1zM346 124h3v33h-3zM351 151h1v5h-1zM351 159h1v16h-1zM350 156h3v3h-3zM359 158h1v3h-1zM359 178h1v15h-1zM358 161h3v17h-3zM367 183h1v3h-1zM366 171h3v12h-3zM371 176h1v7h-1zM371 208h1v4h-1zM370 183h3v25h-3zM399 119h1v27h-1zM399 151h1v3h-1zM398 146h3v5h-3zM407 133h1v5h-1zM407 156h1v8h-1zM406 138h3v18h-3zM415 135h1v11h-1zM415 153h1v1h-1zM414 146h3v7h-3zM423 144h1v5h-1zM423 158h1v17h-1zM422 149h3v9h-3zM431 150h1v4h-1zM431 163h1v3h-1zM430 154h3v9h-3zM435 140h1v21h-1zM435 183h1v31h-1zM434 161h3v22h-3zM443 179h1v1h-1zM442 180h3v75h-3zM463 166h1v3h-1zM463 179h1v4h-1zM462 169h3v10h-3zM475 162h1v6h-1zM475 171h1v6h-1zM474 168h3v3h-3zM483 117h1v2h-1zM483 120h1v18h-1zM482 119h3v1h-3zM491 99h1v10h-1zM491 133h1v2h-1zM490 109h3v24h-3zM499 119h1v1h-1zM499 143h1v5h-1zM498 120h3v23h-3zM519 75h1v9h-1zM519 89h1v18h-1zM518 84h3v5h-3zM523 85h1v2h-1zM523 94h1v5h-1zM522 87h3v7h-3zM535 74h1v7h-1zM535 84h1v2h-1zM534 81h3v3h-3zM543 66h1v4h-1zM543 82h1v15h-1zM542 70h3v12h-3zM547 80h1v1h-1zM547 97h1v9h-1zM546 81h3v16h-3zM551 81h1v15h-1zM551 101h1v7h-1zM550 96h3v5h-3zM555 99h1v1h-1zM555 122h1v11h-1zM554 100h3v22h-3zM559 110h1v11h-1zM559 123h1v3h-1zM558 121h3v2h-3zM567 77h1v3h-1zM567 119h1v3h-1zM566 80h3v39h-3zM575 101h1v7h-1zM575 148h1v3h-1zM574 108h3v40h-3zM583 122h1v2h-1zM583 139h1v2h-1zM582 124h3v15h-3zM591 122h1v1h-1zM591 140h1v12h-1zM590 123h3v17h-3zM599 107h1v20h-1zM599 135h1v7h-1zM598 127h3v8h-3zM607 118h1v8h-1zM607 133h1v4h-1zM606 126h3v7h-3zM615 97h1v11h-1zM615 179h1v13h-1zM614 108h3v71h-3zM623 166h1v3h-1zM623 204h1v7h-1zM622 169h3v35h-3zM635 197h1v1h-1zM635 237h1v13h-1zM634 198h3v39h-3zM639 229h1v7h-1zM639 249h1v4h-1zM638 236h3v13h-3zM643 272h1v14h-1zM642 248h3v24h-3zM647 265h1v6h-1zM647 276h1v14h-1zM646 271h3v5h-3zM651 271h1v4h-1zM651 290h1v2h-1zM650 275h3v15h-3zM675 253h1v6h-1zM675 263h1v2h-1zM674 259h3v4h-3zM679 258h1v5h-1zM679 270h1v10h-1zM678 263h3v7h-3zM687 251h1v2h-1zM687 257h1v29h-1zM686 253h3v4h-3zM695 248h1v6h-1zM695 266h1v5h-1zM694 254h3v12h-3zM699 261h1v4h-1zM699 272h1v3h-1zM698 265h3v7h-3zM703 265h1v5h-1zM703 276h1v5h-1zM702 270h3v6h-3zM715 254h1v7h-1zM715 263h1v4h-1zM714 261h3v2h-3zM719 252h1v10h-1zM719 270h1v5h-1zM718 262h3v8h-3zM723 256h1v13h-1zM723 271h1v3h-1zM722 269h3v2h-3zM743 223h1v6h-1zM743 230h1v5h-1zM742 229h3v1h-3zM751 237h1v4h-1zM750 219h3v18h-3zM755 231h1v5h-1zM755 240h1v14h-1zM754 236h3v4h-3zM771 219h1v11h-1zM770 211h3v8h-3zM783 202h1v2h-1zM783 208h1v22h-1zM782 204h3v4h-3zM787 203h1v4h-1zM787 213h1v7h-1zM786 207h3v6h-3zM791 199h1v13h-1zM791 217h1v8h-1zM790 212h3v5h-3zM799 206h1v3h-1zM799 215h1v1h-1zM798 209h3v6h-3zM803 197h1v18h-1zM803 220h1v1h-1zM802 215h3v5h-3zM815 282h1v7h-1zM814 195h3v87h-3zM819 274h1v8h-1zM819 285h1v2h-1zM818 282h3v3h-3zM831 231h1v13h-1zM831 247h1v26h-1zM830 244h3v3h-3zM835 230h1v17h-1zM835 248h1v1h-1zM834 247h3v1h-3zM843 239h1v4h-1zM843 251h1v11h-1zM842 243h3v8h-3zM859 195h1v14h-1zM859 211h1v10h-1zM858 209h3v2h-3zM867 206h1v2h-1zM867 229h1v1h-1zM866 208h3v21h-3zM879 205h1v7h-1zM879 231h1v5h-1zM878 212h3v19h-3zM891 212h1v1h-1zM891 241h1v1h-1zM890 213h3v28h-3zM895 236h1v4h-1zM895 248h1v4h-1zM894 240h3v8h-3zM899 243h1v4h-1zM899 268h1v15h-1zM898 247h3v21h-3zM923 199h1v8h-1zM923 223h1v5h-1zM922 207h3v16h-3zM931 190h1v12h-1zM931 220h1v1h-1zM930 202h3v18h-3zM935 218h1v2h-1zM935 227h1v8h-1zM934 220h3v7h-3zM939 224h1v2h-1zM939 239h1v6h-1zM938 226h3v13h-3zM951 220h1v1h-1zM951 310h1v2h-1zM950 221h3v89h-3zM963 272h1v8h-1zM963 287h1v7h-1zM962 280h3v7h-3zM967 282h1v4h-1zM967 288h1v6h-1zM966 286h3v2h-3zM975 271h1v2h-1zM975 290h1v23h-1zM974 273h3v17h-3zM979 283h1v6h-1zM979 296h1v5h-1zM978 289h3v7h-3zM983 291h1v5h-1zM983 328h1v3h-1zM982 296h3v32h-3zM987 308h1v7h-1zM987 348h1v5h-1zM986 315h3v33h-3zM999 310h1v9h-1zM999 332h1v10h-1zM998 319h3v13h-3zM1011 313h1v8h-1zM1011 331h1v4h-1zM1010 321h3v10h-3zM1019 325h1v4h-1zM1019 349h1v11h-1zM1018 329h3v20h-3zM1035 278h1v7h-1zM1035 291h1v2h-1zM1034 285h3v6h-3z"/><path fill="#ff4500" d="M3 322h1v1h-1zM7 315h1v5h-1zM11 305h1v9h-1zM15 290h1v14h-1zM39 344h1v30h-1zM47 352h1v3h-1zM51 349h1v2h-1zM55 324h1v24h-1zM63 330h1v2h-1zM67 326h1v3h-1zM71 317h1v7h-1zM75 308h1v9h-1zM79 305h1v2h-1zM83 292h1v12h-1zM87 288h1v3h-1zM95 260h1v26h-1zM103 257h1v4h-1zM111 252h1v37h-1zM119 249h1v20h-1zM123 237h1v11h-1zM135 253h1v3h-1zM139 238h1v14h-1zM143 235h1v1h-1zM147 238h1v4h-1zM155 233h1v14h-1zM175 243h1v1h-1zM183 262h1v7h-1zM191 259h1v8h-1zM195 252h1v6h-1zM203 237h1v17h-1zM207 219h1v18h-1zM227 219h1v31h-1zM231 186h1v32h-1zM243 197h1v7h-1zM251 191h1v7h-1zM267 218h1v15h-1zM275 202h1v16h-1zM283 193h1v7h-1zM287 180h1v12h-1zM291 176h1v3h-1zM299 176h1v4h-1zM303 168h1v6h-1zM307 146h1v21h-1zM311 142h1v2h-1zM315 138h1v3h-1zM323 133h1v8h-1zM327 125h1v7h-1zM335 117h1v15h-1zM355 160h1v1h-1zM363 172h1v4h-1zM375 194h1v13h-1zM379 159h1v33h-1zM383 144h1v14h-1zM387 151h1v21h-1zM395 147h1v2h-1zM403 139h1v8h-1zM411 146h1v9h-1zM419 149h1v3h-1zM427 155h1v2h-1zM439 181h1v1h-1zM447 227h1v27h-1zM451 208h1v18h-1zM455 196h1v11h-1zM459 169h1v25h-1zM467 171h1v7h-1zM471 169h1v1h-1zM479 120h1v49h-1zM487 110h1v10h-1zM495 121h1v11h-1zM503 135h1v7h-1zM507 134h1v2h-1zM511 92h1v41h-1zM515 85h1v6h-1zM527 85h1v9h-1zM531 82h1v2h-1zM539 71h1v12h-1zM563 81h1v41h-1zM571 109h1v9h-1zM579 124h1v22h-1zM587 124h1v15h-1zM595 130h1v9h-1zM603 127h1v6h-1zM611 109h1v22h-1zM619 170h1v8h-1zM627 203h1v7h-1zM631 199h1v3h-1zM659 286h1v1h-1zM663 279h1v5h-1zM667 275h1v4h-1zM671 261h1v14h-1zM683 254h1v15h-1zM691 255h1v1h-1zM707 268h1v7h-1zM711 261h1v5h-1zM727 267h1v3h-1zM731 236h1v31h-1zM735 234h1v1h-1zM739 231h1v1h-1zM747 220h1v16h-1zM759 215h1v24h-1zM767 212h1v2h-1zM779 205h1v11h-1zM795 210h1v6h-1zM807 211h1v8h-1zM811 197h1v13h-1zM827 245h1v39h-1zM839 244h1v3h-1zM847 240h1v10h-1zM855 210h1v27h-1zM863 205h1v6h-1zM875 213h1v14h-1zM883 222h1v6h-1zM887 214h1v7h-1zM903 253h1v14h-1zM907 233h1v20h-1zM911 231h1v1h-1zM915 211h1v19h-1zM919 208h1v2h-1zM927 203h1v19h-1zM943 233h1v5h-1zM947 222h1v10h-1zM955 296h1v12h-1zM959 282h1v13h-1zM971 274h1v13h-1zM991 335h1v11h-1zM995 320h1v15h-1zM1003 329h1v2h-1zM1007 322h1v5h-1zM1023 314h1v34h-1zM1027 294h1v19h-1zM1031 286h1v7h-1z"/><path fill="#32cd31" d="M19 291h1v7h-1zM23 300h1v9h-1zM27 306h1v2h-1zM31 310h1v9h-1zM35 320h1v55h-1zM43 346h1v9h-1zM59 324h1v8h-1zM99 260h1v1h-1zM107 257h1v27h-1zM115 251h1v18h-1zM127 237h1v6h-1zM131 244h1v11h-1zM151 238h1v8h-1zM159 232h1v6h-1zM163 239h1v3h-1zM167 243h1v1h-1zM179 244h1v25h-1zM187 262h1v5h-1zM199 252h1v3h-1zM215 222h1v14h-1zM219 237h1v9h-1zM223 244h1v6h-1zM235 186h1v3h-1zM239 191h1v13h-1zM247 197h1v1h-1zM259 192h1v32h-1zM263 225h1v10h-1zM271 218h1v1h-1zM295 176h1v4h-1zM319 139h1v2h-1zM331 125h1v7h-1zM339 117h1v1h-1zM343 119h1v5h-1zM347 125h1v31h-1zM351 157h1v1h-1zM359 162h1v15h-1zM367 172h1v10h-1zM371 184h1v23h-1zM399 147h1v3h-1zM407 139h1v16h-1zM415 147h1v5h-1zM423 150h1v7h-1zM431 155h1v7h-1zM435 162h1v20h-1zM443 181h1v73h-1zM463 170h1v8h-1zM475 169h1v1h-1zM491 110h1v22h-1zM499 121h1v21h-1zM519 85h1v3h-1zM523 88h1v5h-1zM535 82h1v1h-1zM543 71h1v10h-1zM547 82h1v14h-1zM551 97h1v3h-1zM555 101h1v20h-1zM567 81h1v37h-1zM575 109h1v38h-1zM583 125h1v13h-1zM591 124h1v15h-1zM599 128h1v6h-1zM607 127h1v5h-1zM615 109h1v69h-1zM623 170h1v33h-1zM635 199h1v37h-1zM639 237h1v11h-1zM643 249h1v22h-1zM647 272h1v3h-1zM651 276h1v13h-1zM675 260h1v2h-1zM679 264h1v5h-1zM687 254h1v2h-1zM695 255h1v10h-1zM699 266h1v5h-1zM703 271h1v4h-1zM719 263h1v6h-1zM751 220h1v16h-1zM755 237h1v2h-1zM771 212h1v6h-1zM783 205h1v2h-1zM787 208h1v4h-1zM791 213h1v3h-1zM799 210h1v4h-1zM803 216h1v3h-1zM815 196h1v85h-1zM819 283h1v1h-1zM831 245h1v1h-1zM843 244h1v6h-1zM867 209h1v19h-1zM879 213h1v17h-1zM891 214h1v26h-1zM895 241h1v6h-1zM899 248h1v19h-1zM923 208h1v14h-1zM931 203h1v16h-1zM935 221h1v5h-1zM939 227h1v11h-1zM951 222h1v87h-1zM963 281h1v5h-1zM975 274h1v15h-1zM979 290h1v5h-1zM983 297h1v30h-1zM987 316h1v31h-1zM999 320h1v11h-1zM1011 322h1v8h-1zM1019 330h1v18h-1zM1035 286h1v4h-1z"/>
<path fill="#c0c0c0" d="M3 453h1v4h-1zM11 453h1v1h-1zM15 451h1v3h-1zM19 450h1v4h-1zM23 450h1v4h-1zM27 450h1v4h-1zM31 452h1v2h-1zM35 453h1v9h-1zM39 453h1v13h-1zM43 453h1v17h-1zM47 453h1v20h-1zM51 453h1v21h-1zM55 453h1v17h-1zM59 453h1v16h-1zM63 453h1v15h-1zM67 453h1v12h-1zM71 453h1v9h-1zM75 453h1v4h-1zM83 449h1v5h-1zM87 445h1v9h-1zM91 441h1v13h-1zM95 434h1v20h-1zM99 428h1v26h-1zM103 424h1v30h-1zM107 425h1v29h-1zM111 421h1v33h-1zM115 421h1v33h-1zM119 418h1v36h-1zM123 414h1v40h-1zM127 413h1v41h-1zM131 414h1v40h-1zM135 415h1v39h-1zM139 414h1v40h-1zM143 413h1v41h-1zM147 413h1v41h-1zM151 414h1v40h-1zM155 415h1v39h-1zM159 416h1v38h-1zM163 418h1v36h-1zM167 421h1v33h-1zM171 423h1v31h-1zM175 425h1v29h-1zM179 431h1v23h-1zM183 435h1v19h-1zM187 439h1v15h-1zM191 441h1v13h-1zM195 442h1v12h-1zM199 443h1v11h-1zM203 441h1v13h-1zM207 436h1v18h-1zM211 433h1v21h-1zM215 434h1v20h-1zM219 436h1v18h-1zM223 439h1v15h-1zM227 436h1v18h-1zM231 428h1v26h-1zM235 423h1v31h-1zM239 422h1v32h-1zM243 420h1v34h-1zM247 419h1v35h-1zM251 418h1v36h-1zM255 417h1v37h-1zM259 423h1v31h-1zM263 429h1v25h-1zM267 432h1v22h-1zM271 434h1v20h-1zM275 433h1v21h-1zM279 433h1v21h-1zM283 431h1v23h-1zM287 428h1v26h-1zM291 425h1v29h-1zM295 424h1v30h-1zM299 423h1v31h-1zM303 421h1v33h-1zM307 416h1v38h-1zM311 412h1v42h-1zM315 408h1v46h-1zM319 407h1v47h-1zM323 405h1v49h-1zM327 402h1v52h-1zM331 402h1v52h-1zM335 400h1v54h-1zM339 400h1v54h-1zM343 401h1v53h-1zM347 408h1v46h-1zM351 414h1v40h-1zM355 419h1v35h-1zM359 427h1v27h-1zM363 432h1v22h-1zM367 439h1v15h-1zM371 448h1v6h-1zM375 453h1v1h-1zM379 451h1v3h-1zM383 447h1v7h-1zM387 445h1v9h-1zM391 444h1v10h-1zM395 442h1v12h-1zM399 442h1v12h-1zM403 440h1v14h-1zM407 441h1v13h-1zM411 440h1v14h-1zM415 441h1v13h-1zM419 441h1v13h-1zM423 443h1v11h-1zM427 444h1v10h-1zM431 447h1v7h-1zM435 452h1v2h-1zM439 453h1v1h-1zM443 453h1v17h-1zM447 453h1v24h-1zM451 453h1v26h-1zM455 453h1v26h-1zM459 453h1v21h-1zM463 453h1v18h-1zM467 453h1v14h-1zM471 453h1v11h-1zM475 453h1v8h-1zM479 452h1v2h-1zM483 444h1v10h-1zM487 435h1v19h-1zM491 433h1v21h-1zM495 430h1v24h-1zM499 431h1v23h-1zM503 431h1v23h-1zM507 431h1v23h-1zM511 424h1v30h-1zM515 418h1v36h-1zM519 414h1v40h-1zM523 413h1v41h-1zM527 410h1v44h-1zM531 408h1v46h-1zM535 408h1v46h-1zM539 406h1v48h-1zM543 406h1v48h-1zM547 410h1v44h-1zM551 414h1v40h-1zM555 421h1v33h-1zM559 427h1v27h-1zM563 426h1v28h-1zM567 431h1v23h-1zM571 434h1v20h-1zM575 442h1v12h-1zM579 445h1v9h-1zM583 451h1v3h-1zM587 452h1v2h-1zM591 453h1v1h-1zM595 453h1v3h-1zM599 453h1v5h-1zM603 453h1v5h-1zM607 453h1v5h-1zM611 453h1v2h-1zM615 453h1v12h-1zM619 453h1v17h-1zM623 453h1v27h-1zM627 453h1v33h-1zM631 453h1v38h-1zM635 453h1v49h-1zM639 453h1v56h-1zM643 453h1v68h-1zM647 453h1v76h-1zM651 453h1v83h-1zM655 453h1v88h-1zM659 453h1v89h-1zM663 453h1v89h-1zM667 453h1v88h-1zM671 453h1v83h-1zM675 453h1v79h-1zM679 453h1v76h-1zM683 453h1v70h-1zM687 453h1v65h-1zM691 453h1v60h-1zM695 453h1v56h-1zM699 453h1v55h-1zM703 453h1v54h-1zM707 453h1v51h-1zM711 453h1v47h-1zM715 453h1v42h-1zM719 453h1v41h-1zM723 453h1v39h-1zM727 453h1v37h-1zM731 453h1v29h-1zM735 453h1v22h-1zM739 453h1v16h-1zM743 453h1v12h-1zM747 453h1v6h-1zM751 453h1v4h-1zM755 453h1v3h-1zM759 452h1v2h-1zM763 448h1v6h-1zM767 445h1v9h-1zM771 443h1v11h-1zM775 442h1v12h-1zM779 439h1v15h-1zM783 438h1v16h-1zM787 437h1v17h-1zM791 438h1v16h-1zM795 438h1v16h-1zM799 438h1v16h-1zM803 439h1v15h-1zM807 439h1v15h-1zM811 437h1v17h-1zM815 450h1v4h-1zM819 453h1v7h-1zM823 453h1v15h-1zM827 453h1v14h-1zM831 453h1v14h-1zM835 453h1v14h-1zM839 453h1v13h-1zM843 453h1v13h-1zM847 453h1v11h-1zM851 453h1v10h-1zM855 453h1v3h-1zM859 453h1v1h-1zM863 448h1v6h-1zM867 448h1v6h-1zM871 448h1v6h-1zM875 446h1v8h-1zM879 448h1v6h-1zM883 447h1v7h-1zM887 446h1v8h-1zM891 448h1v6h-1zM895 453h1v1h-1zM899 453h1v5h-1zM903 453h1v8h-1zM907 453h1v6h-1zM911 453h1v5h-1zM919 450h1v4h-1zM923 449h1v5h-1zM927 445h1v9h-1zM931 445h1v9h-1zM935 447h1v7h-1zM939 450h1v4h-1zM943 451h1v3h-1zM947 451h1v3h-1zM951 453h1v10h-1zM955 453h1v18h-1zM959 453h1v24h-1zM963 453h1v28h-1zM967 453h1v30h-1zM971 453h1v30h-1zM975 453h1v31h-1zM979 453h1v34h-1zM983 453h1v41h-1zM987 453h1v49h-1zM991 453h1v53h-1zM995 453h1v53h-1zM999 453h1v54h-1zM1003 453h1v54h-1zM1007 453h1v51h-1zM1011 453h1v51h-1zM1015 453h1v51h-1zM1019 453h1v51h-1zM1023 453h1v46h-1zM1027 453h1v39h-1zM1031 453h1v31h-1zM1035 453h1v25h-1z"/>
<path fill="#ff0000" d="M343 403h3v1h-3zM349 403h3v1h-3zM339 405h1v1h-1zM355 405h2v1h-2zM337 406h2v1h-2zM357 406h1v1h-1zM333 408h1v1h-1zM331 409h2v1h-2zM361 409h1v1h-1zM553 409h1v1h-1zM362 410h1v1h-1zM547 410h3v1h-3zM554 410h2v1h-2zM327 411h1v1h-1zM363 411h1v1h-1zM543 411h1v1h-1zM559 411h2v1h-2zM326 412h1v1h-1zM541 412h2v1h-2zM561 412h1v1h-1zM151 413h3v1h-3zM157 413h3v1h-3zM325 413h1v1h-1zM145 414h3v1h-3zM163 414h3v1h-3zM537 414h1v1h-1zM565 414h2v1h-2zM139 415h3v1h-3zM169 415h3v1h-3zM367 415h1v1h-1zM535 415h2v1h-2zM567 415h1v1h-1zM319 416h3v1h-3zM368 416h1v1h-1zM175 417h2v1h-2zM368 417h1v1h-1zM134 418h2v1h-2zM177 418h1v1h-1zM531 418h1v1h-1zM571 418h1v1h-1zM133 419h1v1h-1zM530 419h1v1h-1zM572 419h1v1h-1zM127 420h3v1h-3zM181 420h2v1h-2zM315 420h1v1h-1zM529 420h1v1h-1zM573 420h1v1h-1zM183 421h1v1h-1zM265 421h1v1h-1zM314 421h1v1h-1zM371 421h1v1h-1zM259 422h3v1h-3zM266 422h2v1h-2zM313 422h1v1h-1zM372 422h1v1h-1zM525 422h1v1h-1zM271 423h3v1h-3zM373 423h1v1h-1zM523 423h2v1h-2zM123 424h1v1h-1zM254 424h2v1h-2zM307 424h3v1h-3zM576 424h1v1h-1zM122 425h1v1h-1zM187 425h2v1h-2zM253 425h1v1h-1zM277 425h2v1h-2zM519 425h1v1h-1zM577 425h1v1h-1zM121 426h1v1h-1zM189 426h1v1h-1zM249 426h1v1h-1zM279 426h1v1h-1zM303 426h1v1h-1zM518 426h1v1h-1zM578 426h1v1h-1zM247 427h2v1h-2zM283 427h3v1h-3zM301 427h2v1h-2zM376 427h1v1h-1zM517 427h1v1h-1zM193 428h1v1h-1zM289 428h1v1h-1zM377 428h1v1h-1zM117 429h1v1h-1zM194 429h1v1h-1zM242 429h2v1h-2zM290 429h2v1h-2zM295 429h3v1h-3zM378 429h1v1h-1zM115 430h2v1h-2zM195 430h1v1h-1zM241 430h1v1h-1zM582 430h1v1h-1zM237 431h1v1h-1zM513 431h2v1h-2zM583 431h1v1h-1zM235 432h2v1h-2zM512 432h1v1h-1zM584 432h1v1h-1zM199 433h2v1h-2zM381 433h1v1h-1zM111 434h1v1h-1zM201 434h1v1h-1zM382 434h1v1h-1zM110 435h1v1h-1zM205 435h2v1h-2zM231 435h1v1h-1zM383 435h1v1h-1zM509 435h1v1h-1zM109 436h1v1h-1zM207 436h1v1h-1zM229 436h2v1h-2zM508 436h1v1h-1zM588 436h1v1h-1zM211 437h3v1h-3zM217 437h3v1h-3zM223 437h3v1h-3zM507 437h1v1h-1zM589 437h1v1h-1zM810 437h3v1h-3zM590 438h1v1h-1zM799 438h2v1h-2zM804 438h3v1h-3zM387 439h2v1h-2zM798 439h1v1h-1zM105 440h1v1h-1zM389 440h1v1h-1zM503 440h1v1h-1zM794 440h1v1h-1zM816 440h2v1h-2zM105 441h1v1h-1zM417 441h3v1h-3zM423 441h3v1h-3zM429 441h3v1h-3zM502 441h1v1h-1zM792 441h2v1h-2zM818 441h1v1h-1zM104 442h1v1h-1zM393 442h2v1h-2zM413 442h1v1h-1zM435 442h2v1h-2zM501 442h1v1h-1zM594 442h1v1h-1zM395 443h1v1h-1zM411 443h2v1h-2zM437 443h1v1h-1zM595 443h1v1h-1zM787 443h2v1h-2zM405 444h3v1h-3zM596 444h1v1h-1zM786 444h1v1h-1zM399 445h3v1h-3zM441 445h1v1h-1zM822 445h1v1h-1zM101 446h1v1h-1zM441 446h1v1h-1zM498 446h1v1h-1zM823 446h2v1h-2zM100 447h1v1h-1zM442 447h1v1h-1zM497 447h1v1h-1zM600 447h1v1h-1zM781 447h2v1h-2zM890 447h1v1h-1zM894 447h3v1h-3zM99 448h1v1h-1zM496 448h1v1h-1zM601 448h1v1h-1zM780 448h1v1h-1zM888 448h2v1h-2zM900 448h1v1h-1zM943 448h2v1h-2zM948 448h2v1h-2zM602 449h1v1h-1zM828 449h2v1h-2zM901 449h2v1h-2zM942 449h1v1h-1zM950 449h1v1h-1zM776 450h1v1h-1zM830 450h1v1h-1zM883 450h2v1h-2zM938 450h1v1h-1zM446 451h1v1h-1zM606 451h1v1h-1zM775 451h1v1h-1zM882 451h1v1h-1zM906 451h3v1h-3zM936 451h2v1h-2zM954 451h1v1h-1zM3 452h2v1h-2zM95 452h1v1h-1zM447 452h1v1h-1zM493 452h1v1h-1zM607 452h1v1h-1zM774 452h1v1h-1zM931 452h2v1h-2zM955 452h1v1h-1zM5 453h1v1h-1zM22 453h2v1h-2zM27 453h3v1h-3zM33 453h3v1h-3zM94 453h1v1h-1zM448 453h1v1h-1zM492 453h1v1h-1zM608 453h1v1h-1zM877 453h2v1h-2zM912 453h3v1h-3zM918 453h3v1h-3zM930 453h1v1h-1zM956 453h1v1h-1zM21 454h1v1h-1zM39 454h2v1h-2zM93 454h1v1h-1zM491 454h1v1h-1zM834 454h1v1h-1zM876 454h1v1h-1zM924 454h3v1h-3zM9 455h2v1h-2zM17 455h1v1h-1zM41 455h1v1h-1zM612 455h2v1h-2zM770 455h1v1h-1zM835 455h1v1h-1zM11 456h1v1h-1zM15 456h2v1h-2zM614 456h1v1h-1zM769 456h1v1h-1zM836 456h1v1h-1zM871 456h2v1h-2zM960 456h1v1h-1zM45 457h2v1h-2zM451 457h1v1h-1zM768 457h1v1h-1zM870 457h1v1h-1zM961 457h1v1h-1zM47 458h1v1h-1zM88 458h2v1h-2zM452 458h2v1h-2zM488 458h1v1h-1zM962 458h1v1h-1zM87 459h1v1h-1zM488 459h1v1h-1zM618 459h1v1h-1zM840 459h2v1h-2zM487 460h1v1h-1zM619 460h2v1h-2zM842 460h1v1h-1zM865 460h2v1h-2zM51 461h2v1h-2zM765 461h1v1h-1zM864 461h1v1h-1zM53 462h1v1h-1zM457 462h1v1h-1zM764 462h1v1h-1zM846 462h1v1h-1zM966 462h1v1h-1zM83 463h1v1h-1zM458 463h1v1h-1zM624 463h2v1h-2zM763 463h1v1h-1zM847 463h2v1h-2zM858 463h3v1h-3zM967 463h1v1h-1zM57 464h1v1h-1zM81 464h2v1h-2zM459 464h1v1h-1zM483 464h1v1h-1zM626 464h1v1h-1zM854 464h1v1h-1zM968 464h1v1h-1zM58 465h1v1h-1zM482 465h1v1h-1zM852 465h2v1h-2zM59 466h1v1h-1zM77 466h1v1h-1zM481 466h1v1h-1zM63 467h3v1h-3zM75 467h2v1h-2zM463 467h2v1h-2zM759 467h1v1h-1zM69 468h3v1h-3zM465 468h1v1h-1zM629 468h1v1h-1zM758 468h1v1h-1zM972 468h1v1h-1zM477 469h1v1h-1zM630 469h1v1h-1zM757 469h1v1h-1zM973 469h1v1h-1zM469 470h2v1h-2zM475 470h2v1h-2zM631 470h1v1h-1zM973 470h1v1h-1zM471 471h1v1h-1zM754 473h1v1h-1zM635 474h1v1h-1zM753 474h1v1h-1zM977 474h1v1h-1zM636 475h1v1h-1zM752 475h1v1h-1zM978 475h1v1h-1zM636 476h1v1h-1zM979 476h1v1h-1zM748 479h1v1h-1zM639 480h1v1h-1zM747 480h1v1h-1zM982 480h1v1h-1zM640 481h1v1h-1zM746 481h1v1h-1zM983 481h1v1h-1zM640 482h1v1h-1zM984 482h1v1h-1zM743 485h1v1h-1zM642 486h1v1h-1zM742 486h1v1h-1zM988 486h1v1h-1zM643 487h1v1h-1zM741 487h1v1h-1zM989 487h1v1h-1zM643 488h1v1h-1zM990 488h1v1h-1zM994 490h1v1h-1zM736 491h2v1h-2zM995 491h1v1h-1zM645 492h1v1h-1zM735 492h1v1h-1zM996 492h1v1h-1zM646 493h1v1h-1zM646 494h1v1h-1zM1000 495h2v1h-2zM731 496h1v1h-1zM1002 496h1v1h-1zM730 497h1v1h-1zM648 498h1v1h-1zM729 498h1v1h-1zM1006 498h1v1h-1zM649 499h1v1h-1zM1007 499h1v1h-1zM649 500h1v1h-1zM1008 500h1v1h-1zM1032 500h1v1h-1zM724 501h2v1h-2zM1031 501h1v1h-1zM723 502h1v1h-1zM1012 502h1v1h-1zM1030 502h1v1h-1zM1013 503h2v1h-2zM651 504h1v1h-1zM719 504h1v1h-1zM1018 504h3v1h-3zM1025 504h2v1h-2zM652 505h1v1h-1zM718 505h1v1h-1zM1024 505h1v1h-1zM652 506h1v1h-1zM717 506h1v1h-1zM654 510h1v1h-1zM712 510h2v1h-2zM655 511h1v1h-1zM711 511h1v1h-1zM656 512h1v1h-1zM707 515h1v1h-1zM658 516h1v1h-1zM706 516h1v1h-1zM658 517h1v1h-1zM705 517h1v1h-1zM659 518h1v1h-1zM701 520h1v1h-1zM701 521h1v1h-1zM662 522h1v1h-1zM700 522h1v1h-1zM662 523h1v1h-1zM663 524h1v1h-1zM696 525h1v1h-1zM695 526h1v1h-1zM694 527h1v1h-1zM666 528h1v1h-1zM666 529h1v1h-1zM667 530h1v1h-1zM691 531h1v1h-1zM689 532h2v1h-2zM671 534h2v1h-2zM685 534h1v1h-1zM673 535h1v1h-1zM683 535h2v1h-2zM677 536h1v1h-1zM678 537h2v1h-2z"/>
<path fill="#0000ff" d="M948 219h199v2h-199z"/>
<path fill="#00ff00" d="M894 269h252v2h-252z"/>
<path fill="#ff0000" d="M1017 360h153v2h-153z"/>
</svg>
<div class="b" style="left:2px;top:30px;width:1px;height:359px"></div>
<!-- crosshair -->
<div class="b" style="left:7px;top:31px;width:1px;height:17px"></div>
<div class="b" style="left:7px;top:114px;width:1px;height:277px"></div>
<div class="b" style="left:7px;top:395px;width:1px;height:156px"></div>
<div class="b" style="left:3px;top:393px;width:2px;height:1px"></div>
<div class="b" style="left:9px;top:393px;width:1297px;height:1px"></div>
<svg width="16" height="8" viewBox="0 0 16 8" style="left:4px;top:35px"><path d="M2 6.500H9L5.500 2Z" fill="#000"/></svg>
<!-- one-click trading panel -->
<svg width="240" height="90" viewBox="0 30 240 90" style="left:0;top:30px">
<defs>
<linearGradient id="gS" gradientUnits="userSpaceOnUse" x1="0" y1="50" x2="0" y2="114">
<stop offset="0" stop-color="#ff5555"/><stop offset="0.37" stop-color="#e02c2c"/><stop offset="1" stop-color="#a00000"/>
</linearGradient>
<linearGradient id="gB" x1="0" y1="0" x2="0" y2="1">
<stop offset="0" stop-color="#f2f2f2"/><stop offset="0.34" stop-color="#e6e6e6"/><stop offset="0.35" stop-color="#d6d6d6"/><stop offset="1" stop-color="#dedede"/>
</linearGradient>
</defs>
<path d="M6 50H58V74H115V114H6Z" fill="url(#gS)"/>
<path d="M174 50H225V114H117V74H174Z" fill="url(#gS)"/>
<path d="M6.500 114V50.500H57.500V74" fill="none" stroke="#b00000" stroke-width="1"/>
<path d="M173.500 74V50.500H224.500V114" fill="none" stroke="#b00000" stroke-width="1"/>
<path fill="#8b0000" d="M10 73h44v1h-44zM177 73h44v1h-44z"/>
<path fill="#ff6a6a" d="M10 74h44v1h-44zM177 74h44v1h-44z"/>
<rect x="60.500" y="50.500" width="110" height="21" fill="#fff" stroke="#a6a9b3"/>
<rect x="62" y="52" width="18" height="18" fill="url(#gB)"/>
<rect x="151" y="52" width="18" height="18" fill="url(#gB)"/>
<path fill="#a6a9b3" d="M81 51h1v20h-1zM149 51h1v20h-1z"/>
<path fill="#5468c4" d="M68 59h5v1h-5zM69 60h3v1h-3zM70 61h1v1h-1zM159 59h1v1h-1zM158 60h3v1h-3zM157 61h5v1h-5z" shape-rendering="crispEdges"/>
<path fill="#b00000" d="M58 74h57v1h-57zM117 74h57v1h-57z"/>
<text x="53" y="105" font-size="34" fill="#fff" stroke="url(#gS)" stroke-width="0.600" textLength="35.500" lengthAdjust="spacingAndGlyphs">23</text>
<text x="164.500" y="105" font-size="34" fill="#fff" stroke="url(#gS)" stroke-width="0.600" textLength="35.500" lengthAdjust="spacingAndGlyphs">25</text>
</svg>
<!-- tab bar -->
<div style="left:0;top:572px;width:1351px;height:1px;background:#e8e8e8"></div>

<div class="b" style="left:0;top:574px;width:1351px;height:1px"></div>
<div id="tabs"></div>
<div style="left:0;top:594px;width:1351px;height:1px;background:#fff"></div>
<div id="atab"></div>
<div class="ts" style="left:96px"></div><div class="ts" style="left:368px"></div><div class="ts" style="left:460px"></div><div class="ts" style="left:556px"></div><div class="ts" style="left:648px"></div><div class="ts" style="left:740px"></div><div class="ts" style="left:816px"></div>
<svg width="30" height="12" viewBox="0 0 30 12" style="left:1316px;top:577px"><path fill="#a0a0a0" d="M6 2.500V9.500L2.500 6ZM22 2.500V9.500L25.500 6Z"/></svg>
<div class="t" style="left:69.78px;top:-4px;font-size:10.2px;transform:scaleX(0.9947);color:#404040">M1</div><div class="t" style="left:97.79px;top:-4px;font-size:10.2px;transform:scaleX(0.9829);color:#404040">M5</div><div class="t" style="left:123.5px;top:-4px;font-size:10.2px;transform:scaleX(0.9688);color:#404040">M15</div><div class="t" style="left:151.92px;top:-4px;font-size:10.2px;transform:scaleX(0.9438);color:#404040">M30</div><div class="t" style="left:182.75px;top:-4px;font-size:10.2px;transform:scaleX(1.0273);color:#404040">H1</div><div class="t" style="left:209.84px;top:-4px;font-size:10.2px;transform:scaleX(1.0451);color:#404040">H4</div><div class="t" style="left:238.65px;top:-4px;font-size:10.2px;transform:scaleX(1.0273);color:#404040">D1</div><div class="t" style="left:266.79px;top:-4px;font-size:10.2px;transform:scaleX(0.9945);color:#404040">W1</div><div class="t" style="left:292.84px;top:-4px;font-size:10.2px;transform:scaleX(1.0349);color:#404040">MN</div><div class="t s" style="left:17.94px;top:19.95px;font-size:10.2px;transform:scaleX(0.9703)">USDCHF,H4</div><div class="t s" style="left:78.6px;top:19.95px;font-size:10.2px;transform:scaleX(0.9244)">0.99268</div><div class="t s" style="left:114.71px;top:19.95px;font-size:10.2px;transform:scaleX(0.9049)">0.99328</div><div class="t s" style="left:150.81px;top:19.95px;font-size:10.2px;transform:scaleX(0.9044)">0.99210</div><div class="t s" style="left:186.91px;top:19.95px;font-size:10.2px;transform:scaleX(0.9016)">0.99230</div><div class="t s" style="left:7.65px;top:381.2px;font-size:10.2px;transform:scaleX(0.9119)">MACD(12,26,9) -0.000995 -0.001777</div><div class="t s" style="left:1311.75px;top:37.05px;font-size:10.2px;transform:scaleX(0.9007)">1.01220</div><div class="t s" style="left:1311.75px;top:70.05px;font-size:10.2px;transform:scaleX(0.9007)">1.00940</div><div class="t s" style="left:1311.75px;top:103.05px;font-size:10.2px;transform:scaleX(0.9007)">1.00660</div><div class="t s" style="left:1311.75px;top:136.05px;font-size:10.2px;transform:scaleX(0.9007)">1.00380</div><div class="t s" style="left:1311.75px;top:169.05px;font-size:10.2px;transform:scaleX(0.9007)">1.00100</div><div class="t s" style="left:1312.12px;top:202.05px;font-size:10.2px;transform:scaleX(0.8905)">0.99820</div><div class="t s" style="left:1312.12px;top:235.05px;font-size:10.2px;transform:scaleX(0.8905)">0.99540</div><div class="t s" style="left:1312.12px;top:268.05px;font-size:10.2px;transform:scaleX(0.8905)">0.99260</div><div class="t s" style="left:1312.12px;top:301.05px;font-size:10.2px;transform:scaleX(0.8905)">0.98980</div><div class="t s" style="left:1312.12px;top:334.05px;font-size:10.2px;transform:scaleX(0.8905)">0.98700</div><div class="t s" style="left:1312.12px;top:367.05px;font-size:10.2px;transform:scaleX(0.8905)">0.98420</div><div class="t s" style="left:1310.12px;top:378.7px;font-size:10.2px;transform:scaleX(0.8962)">0.002492</div><div class="t s" style="left:1309.39px;top:435.1px;font-size:10.2px;transform:scaleX(0.9555)">0.00</div><div class="t s" style="left:1309.23px;top:526.3px;font-size:10.2px;transform:scaleX(0.9059)">-0.003913</div><div class="t s" style="left:47.73px;top:541.95px;font-size:10.2px">8</div><div class="t s" style="left:65.93px;top:541.95px;font-size:10.2px;transform:scaleX(0.9254)">16 Oct 22:00</div><div class="t s" style="left:130.13px;top:541.95px;font-size:10.2px;transform:scaleX(0.9237)">19 Oct 14:00</div><div class="t s" style="left:193.36px;top:541.95px;font-size:10.2px;transform:scaleX(0.9438)">24 Oct 04:00</div><div class="t s" style="left:257.46px;top:541.95px;font-size:10.2px;transform:scaleX(0.9421)">26 Oct 22:00</div><div class="t s" style="left:321.74px;top:541.95px;font-size:10.2px;transform:scaleX(0.9356)">31 Oct 14:00</div><div class="t s" style="left:385.23px;top:541.95px;font-size:10.2px;transform:scaleX(0.9669)">5 Nov 07:00</div><div class="t s" style="left:449.49px;top:541.95px;font-size:10.2px;transform:scaleX(0.9529)">7 Nov 23:00</div><div class="t s" style="left:514.01px;top:541.95px;font-size:10.2px;transform:scaleX(0.9461)">12 Nov 15:00</div><div class="t s" style="left:577.81px;top:541.95px;font-size:10.2px;transform:scaleX(0.9461)">15 Nov 04:00</div><div class="t s" style="left:641.61px;top:541.95px;font-size:10.2px;transform:scaleX(0.9512)">19 Nov 23:00</div><div class="t s" style="left:705.66px;top:541.95px;font-size:10.2px;transform:scaleX(0.9486)">22 Nov 15:00</div><div class="t s" style="left:769.56px;top:541.95px;font-size:10.2px;transform:scaleX(0.9469)">27 Nov 04:00</div><div class="t s" style="left:833.56px;top:541.95px;font-size:10.2px;transform:scaleX(0.952)">29 Nov 23:00</div><div class="t s" style="left:897.69px;top:541.95px;font-size:10.2px;transform:scaleX(0.9217)">4 Dec 15:00</div><div class="t s" style="left:961.62px;top:541.95px;font-size:10.2px;transform:scaleX(0.9139)">7 Dec 04:00</div><div class="t s" style="left:1025.72px;top:541.95px;font-size:10.2px;transform:scaleX(0.9294)">11 Dec 23:00</div><div class="t" style="left:16.02px;top:564.77px;font-size:12.6px;transform:scaleX(0.9403);color:#707070">EURUSD,H4</div><div class="t" style="left:106.96px;top:564.77px;font-size:12.6px;transform:scaleX(0.9593);color:#707070">AUDUSD,H4</div><div class="t" style="left:197.78px;top:564.77px;font-size:12.6px;transform:scaleX(0.9506)">USDCHF,H4</div><div class="t" style="left:287.08px;top:564.77px;font-size:12.6px;transform:scaleX(0.952);color:#707070">USDCAD,H4</div><div class="t" style="left:378.26px;top:564.77px;font-size:12.6px;transform:scaleX(0.9684);color:#707070">USDCNH,H4</div><div class="t" style="left:470.56px;top:564.77px;font-size:12.6px;transform:scaleX(0.9691);color:#707070">USDJPY,M30</div><div class="t" style="left:566.64px;top:564.77px;font-size:12.6px;transform:scaleX(0.9661);color:#707070">XAUUSD,H1</div><div class="t" style="left:659.75px;top:564.77px;font-size:12.6px;transform:scaleX(0.9424);color:#707070">GBPUSD,H1</div><div class="t" style="left:750.75px;top:564.77px;font-size:12.6px;transform:scaleX(0.9527);color:#707070">SP500,H4</div>
<!-- axis value boxes -->
<div class="b" style="left:1308px;top:285px;width:41px;height:11px"></div>
<div class="b" style="left:1308px;top:388px;width:41px;height:11px"></div>
<div class="b" style="left:0;top:555px;width:47px;height:11px"></div>
<div class="t w" style="left:1312.12px;top:271.9px;font-size:10.2px;transform:scaleX(0.8905);color:#fff">0.99230</div><div class="t w" style="left:1312.11px;top:375.1px;font-size:10.2px;transform:scaleX(0.918);color:#fff">0.002411</div><div class="t w" style="left:-3.21px;top:541.95px;font-size:10.2px;transform:scaleX(0.9643);color:#fff">0.12 10:00</div><div class="t" style="left:17.51px;top:41.68px;font-size:12px;transform:scaleX(0.91);color:#fff">SELL</div><div class="t" style="left:185.5px;top:41.68px;font-size:12px;transform:scaleX(1.0044);color:#fff">BUY</div><div class="t" style="left:122.06px;top:41.7px;font-size:11.6px;transform:scaleX(1.0867)">3.00</div><div class="t" style="left:25.46px;top:80.95px;font-size:12.4px;transform:scaleX(1.038);color:#fff;font-weight:bold">0.99</div><div class="t" style="left:135.46px;top:80.95px;font-size:12.4px;transform:scaleX(1.038);color:#fff;font-weight:bold">0.99</div><div class="t" style="left:92.51px;top:65.9px;font-size:11.5px;color:#fff;font-weight:bold">0</div><div class="t" style="left:203.79px;top:65.9px;font-size:11.5px;color:#fff;font-weight:bold">3</div>
<div style="left:1349px;top:28px;width:2px;height:546px;background:#fff;border-left:1px solid #e3e3e3"></div>
<div style="left:1349px;top:575px;width:2px;height:19px;background:#f4f4f4;border-left:1px solid #e3e3e3"></div>
</div>
</body></html>
